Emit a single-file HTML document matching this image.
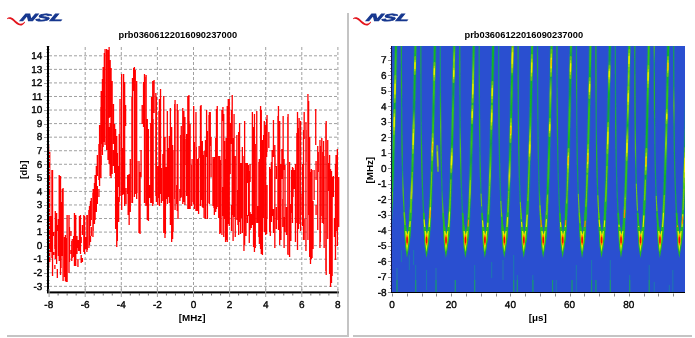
<!DOCTYPE html><html><head><meta charset="utf-8"><style>html,body{margin:0;padding:0;background:#fff;width:695px;height:338px;overflow:hidden;position:relative}</style></head><body><svg width="695" height="338" viewBox="0 0 695 338" style="position:absolute;left:0;top:0"><rect width="695" height="338" fill="#fff"/><rect x="347" y="13" width="2" height="324" fill="#c4c4c4"/><rect x="7" y="335" width="341" height="2" fill="#c4c4c4"/><rect x="353" y="335" width="339" height="2" fill="#c4c4c4"/><g transform="translate(0,0)"><path d="M7,18.6 C8.6,16.6 11.2,16.8 14,19.2 C16.6,21.6 18.6,23.6 20.8,23.8 C22.2,23.8 23.4,23 24.6,21.6 L25,22.4 C23.6,24.4 22.2,25.6 20.4,25.6 C17.6,25.4 15.4,23.2 13,20.8 C10.8,18.8 9,18.2 7.4,19.2 Z" fill="#e3141c"/><text x="0" y="0" transform="translate(19.6,20.6) skewX(-24) scale(2.07,1.0)" font-family="Liberation Sans, Arial, sans-serif" font-weight="bold" font-style="italic" font-size="10.3" fill="#16378f" stroke="#16378f" stroke-width="0.65">NSL</text></g><g transform="translate(346,0)"><path d="M7,18.6 C8.6,16.6 11.2,16.8 14,19.2 C16.6,21.6 18.6,23.6 20.8,23.8 C22.2,23.8 23.4,23 24.6,21.6 L25,22.4 C23.6,24.4 22.2,25.6 20.4,25.6 C17.6,25.4 15.4,23.2 13,20.8 C10.8,18.8 9,18.2 7.4,19.2 Z" fill="#e3141c"/><text x="0" y="0" transform="translate(19.6,20.6) skewX(-24) scale(2.07,1.0)" font-family="Liberation Sans, Arial, sans-serif" font-weight="bold" font-style="italic" font-size="10.3" fill="#16378f" stroke="#16378f" stroke-width="0.65">NSL</text></g><text x="177.8" y="38" text-anchor="middle" font-family="Liberation Sans, Arial, sans-serif" font-weight="bold" font-size="9.4" textLength="118.6" lengthAdjust="spacingAndGlyphs" fill="#000">prb03606122016090237000</text><text x="523.8" y="38" text-anchor="middle" font-family="Liberation Sans, Arial, sans-serif" font-weight="bold" font-size="9.4" textLength="118.6" lengthAdjust="spacingAndGlyphs" fill="#000">prb03606122016090237000</text><path d="M49,286.32H339M49,272.76H339M49,259.20H339M49,245.64H339M49,232.08H339M49,218.52H339M49,204.96H339M49,191.40H339M49,177.84H339M49,164.28H339M49,150.72H339M49,137.16H339M49,123.60H339M49,110.04H339M49,96.48H339M49,82.92H339M49,69.36H339M49,55.80H339" stroke="#a0a0a0" stroke-width="1" stroke-dasharray="3,2" fill="none"/><path d="M85.20,47V291M121.30,47V291M157.40,47V291M193.50,47V291M229.60,47V291M265.70,47V291M301.80,47V291M337.90,47V291" stroke="#a0a0a0" stroke-width="1" stroke-dasharray="3,2" fill="none"/><path d="M48.62,145V268M49.74,152V262M50.8,216V252M51.94,170V258M52.54,170V276M53.77,232V236M53.77,252V255M54.87,236V249M54.87,265V269M55.3,211V259M56.6,213V264M57.32,225V231M57.32,269V278M58.37,219V256M59.2,175V261M60.52,176V275M61.04,202V268M62.34,189V256M63.08,188V281M64.53,237V277M65.42,235V281M66.13,238V282M67.11,215V282M69.0,215V273M69.48,227V262M70.96,231V236M70.96,250V254M71.77,241V261M72.28,239V258M73.65,236V257M74.46,213V266M75.74,215V266M76.98,236V254M77.94,240V248M77.94,259V267M78.62,240V251M79.44,216V251M80.47,215V254M81.19,237V243M81.19,255V263M82.41,225V235M82.41,258V262M83.82,215V252M84.6,216V254M85.89,237V249M86.89,215V252M87.29,215V250M88.91,210V248M89.5,206V245M90.49,201V226M90.49,236V242M91.29,198V220M91.29,227V236M92.94,193V237M93.15,189V231M94.47,183V224M95.12,175V220M96.34,166V212M97.36,155V176M97.36,186V204M98.92,144V180M98.92,189V197M99.58,125V186M100.91,107V178M101.2,91V144M101.2,156V165M102.43,79V155M103.14,67V147M104.33,53V142M105.07,49V145M106.66,49V150M108.0,50V160M108.22,53V159M109.13,47V118M109.13,127V164M110.16,60V117M110.16,123V176M111.06,68V178M112.13,81V174M113.49,104V144M113.49,150V166M114.63,124V173M115.62,129V229M116.75,136V247M117.37,153V241M118.66,166V187M118.66,197V222M119.24,134V202M120.03,99V196M121.68,74V210M122.82,148V195M123.61,74V194M124.65,82V206M125.59,105V126M126.04,188V204M127.62,175V194M128.16,175V215M129.15,174V225M130.29,159V212M131.92,97V203M132.47,78V203M133.67,68V91M134.4,67V197M135.28,70V194M136.67,81V199M137.01,161V193M138.99,161V233M139.07,165V231M140.05,172V234M141.06,150V177M142.18,105V124M143.54,82V127M144.49,74V203M145.91,77V206M146.12,75V205M147.31,119V220M148.43,129V221M149.7,185V198M150.75,123V203M151.57,97V203M152.73,81V206M153.13,119V204M154.06,80V113M155.86,93V196M156.36,97V202M157.73,166V205M158.94,111V198M159.46,99V206M160.53,89V194M161.42,168V203M162.88,154V201M163.75,96V233M164.98,137V238M165.4,170V234M166.17,167V199M167.32,111V204M168.38,148V197M169.32,136V203M170.4,108V225M171.67,127V242M172.59,145V239M173.08,150V232M174.71,104V199M175.07,100V210M176.69,185V204M177.24,104V211M178.0,110V219M179.9,189V201M180.72,135V198M181.27,126V197M182.77,108V204M183.88,111V202M184.9,117V205M185.19,139V165M186.65,134V196M187.83,96V209M188.93,95V209M189.1,121V198M190.1,124V209M191.71,165V206M192.1,159V202M193.68,106V204M194.38,142V209M195.96,112V211M196.3,147V211M197.38,159V211M198.58,158V214M199.05,146V158M200.48,106V206M201.09,105V200M202.36,141V207M203.05,155V208M204.09,151V218M205.51,140V219M206.59,110V157M207.41,131V219M209.0,115V203M209.42,112V204M210.27,112V146M211.07,137V177M212.96,157V206M213.94,159V208M214.37,157V215M215.7,138V212M216.48,109V209M217.26,106V207M218.71,156V218M219.79,156V234M220.35,160V233M221.92,110V235M222.94,107V121M222.94,187V216M223.74,114V237M224.55,141V219M225.57,159V242M226.09,138V240M227.26,106V242M228.26,99V224M229.25,99V226M230.18,123V174M231.49,110V144M231.49,205V231M232.22,95V215M233.09,138V241M234.07,114V217M235.26,156V237M236.9,135V220M237.95,190V225M238.65,132V235M239.57,123V222M240.54,163V234M241.78,163V218M242.36,147V233M243.96,156V251M244.63,121V245M245.97,163V236M246.41,163V216M247.41,163V183M247.41,215V223M248.51,165V216M249.29,171V243M250.1,164V182M250.1,212V230M251.27,214V228M252.38,112V225M253.53,127V247M254.44,114V252M255.28,144V248M256.76,111V223M257.73,206V223M258.86,162V237M259.36,159V244M260.59,106V249M261.28,110V254M262.42,140V255M263.66,135V218M264.31,121V232M265.68,125V235M266.61,119V157M266.61,217V234M267.04,115V152M267.04,185V219M268.83,132V148M269.66,167V232M270.31,169V236M271.44,162V222M272.15,150V216M273.44,120V157M273.44,209V233M274.83,145V248M275.02,155V167M276.37,166V179M276.37,207V229M277.95,116V220M278.45,106V230M279.69,121V245M280.92,164V240M281.88,149V179M282.77,199V227M283.14,116V217M284.1,159V170M284.1,217V248M285.01,165V232M286.45,207V235M287.82,117V254M288.07,114V255M289.59,162V257M290.86,204V241M291.64,170V213M292.47,167V223M293.07,168V197M294.29,170V189M295.46,164V242M296.87,133V223M297.5,112V250M298.45,128V229M299.13,118V224M300.6,121V231M301.04,194V215M302.66,164V226M303.51,130V240M304.18,112V139M304.18,219V240M305.94,122V251M306.13,130V162M307.93,94V240M308.61,101V215M309.66,137V257M310.5,172V264M311.34,169V259M312.05,170V258M313.05,201V249M314.12,170V200M315.74,109V145M316.07,161V180M316.07,205V215M317.73,146V230M318.28,152V172M319.96,140V248M320.32,146V242M321.79,138V216M322.23,152V223M323.58,141V224M324.12,156V248M325.87,124V271M326.19,121V275M327.74,140V239M328.3,163V191M329.6,155V274M330.56,169V287M331.5,171V283M332.16,177V276M333.35,176V197M334.44,218V237M335.48,164V260M336.04,155V231M337.37,149V246M338.71,177V227" stroke="#ff0000" stroke-width="1.3" fill="none"/><rect x="47" y="46" width="2" height="247" fill="#000"/><rect x="47" y="291.4" width="292" height="2" fill="#000"/><path d="M44,286.5H47M44,273.5H47M44,259.5H47M44,246.5H47M44,232.5H47M44,219.5H47M44,205.5H47M44,191.5H47M44,178.5H47M44,164.5H47M44,151.5H47M44,137.5H47M44,124.5H47M44,110.5H47M44,96.5H47M44,83.5H47M44,69.5H47M44,56.5H47M49.10,289V297M85.20,289V297M121.30,289V297M157.40,289V297M193.50,289V297M229.60,289V297M265.70,289V297M301.80,289V297M337.90,289V297" stroke="#a0a0a0" stroke-width="1" fill="none"/><path d="M58.12,293V295.5M67.15,293V295.5M76.17,293V295.5M94.22,293V295.5M103.25,293V295.5M112.27,293V295.5M130.32,293V295.5M139.35,293V295.5M148.38,293V295.5M166.43,293V295.5M175.45,293V295.5M184.47,293V295.5M202.53,293V295.5M211.55,293V295.5M220.57,293V295.5M238.62,293V295.5M247.65,293V295.5M256.68,293V295.5M274.73,293V295.5M283.75,293V295.5M292.77,293V295.5M310.82,293V295.5M319.85,293V295.5M328.88,293V295.5" stroke="#707070" stroke-width="1" fill="none"/><path d="M46,290.5H47M49,290.5H50M46,283.5H47M49,283.5H50M46,280.5H47M49,280.5H50M46,276.5H47M49,276.5H50M46,269.5H47M49,269.5H50M46,266.5H47M49,266.5H50M46,263.5H47M49,263.5H50M46,256.5H47M49,256.5H50M46,252.5H47M49,252.5H50M46,249.5H47M49,249.5H50M46,242.5H47M49,242.5H50M46,239.5H47M49,239.5H50M46,235.5H47M49,235.5H50M46,229.5H47M49,229.5H50M46,225.5H47M49,225.5H50M46,222.5H47M49,222.5H50M46,215.5H47M49,215.5H50M46,212.5H47M49,212.5H50M46,208.5H47M49,208.5H50M46,202.5H47M49,202.5H50M46,198.5H47M49,198.5H50M46,195.5H47M49,195.5H50M46,188.5H47M49,188.5H50M46,185.5H47M49,185.5H50M46,181.5H47M49,181.5H50M46,174.5H47M49,174.5H50M46,171.5H47M49,171.5H50M46,168.5H47M49,168.5H50M46,161.5H47M49,161.5H50M46,158.5H47M49,158.5H50M46,154.5H47M49,154.5H50M46,147.5H47M49,147.5H50M46,144.5H47M49,144.5H50M46,141.5H47M49,141.5H50M46,134.5H47M49,134.5H50M46,130.5H47M49,130.5H50M46,127.5H47M49,127.5H50M46,120.5H47M49,120.5H50M46,117.5H47M49,117.5H50M46,113.5H47M49,113.5H50M46,107.5H47M49,107.5H50M46,103.5H47M49,103.5H50M46,100.5H47M49,100.5H50M46,93.5H47M49,93.5H50M46,90.5H47M49,90.5H50M46,86.5H47M49,86.5H50M46,80.5H47M49,80.5H50M46,76.5H47M49,76.5H50M46,73.5H47M49,73.5H50M46,66.5H47M49,66.5H50M46,63.5H47M49,63.5H50M46,59.5H47M49,59.5H50M46,52.5H47M49,52.5H50M46,49.5H47M49,49.5H50M46,46.5H47M49,46.5H50" stroke="#c0c0c0" stroke-width="1" fill="none"/><g font-family="Liberation Sans, Arial, sans-serif" font-size="10" text-rendering="geometricPrecision" fill="#000" stroke="#000" stroke-width="0.35"><text x="42.3" y="289.5" text-anchor="end">-3</text><text x="42.3" y="276.0" text-anchor="end">-2</text><text x="42.3" y="262.4" text-anchor="end">-1</text><text x="42.3" y="248.8" text-anchor="end">0</text><text x="42.3" y="235.3" text-anchor="end">1</text><text x="42.3" y="221.7" text-anchor="end">2</text><text x="42.3" y="208.2" text-anchor="end">3</text><text x="42.3" y="194.6" text-anchor="end">4</text><text x="42.3" y="181.0" text-anchor="end">5</text><text x="42.3" y="167.5" text-anchor="end">6</text><text x="42.3" y="153.9" text-anchor="end">7</text><text x="42.3" y="140.4" text-anchor="end">8</text><text x="42.3" y="126.8" text-anchor="end">9</text><text x="42.3" y="113.2" text-anchor="end">10</text><text x="42.3" y="99.7" text-anchor="end">11</text><text x="42.3" y="86.1" text-anchor="end">12</text><text x="42.3" y="72.6" text-anchor="end">13</text><text x="42.3" y="59.0" text-anchor="end">14</text><text x="48.8" y="308" text-anchor="middle">-8</text><text x="85.2" y="308" text-anchor="middle">-6</text><text x="121.3" y="308" text-anchor="middle">-4</text><text x="157.4" y="308" text-anchor="middle">-2</text><text x="193.5" y="308" text-anchor="middle">0</text><text x="229.6" y="308" text-anchor="middle">2</text><text x="265.7" y="308" text-anchor="middle">4</text><text x="301.8" y="308" text-anchor="middle">6</text><text x="337.9" y="308" text-anchor="middle">8</text></g><text x="192.2" y="320.6" text-anchor="middle" font-family="Liberation Sans, Arial, sans-serif" font-weight="bold" font-size="9.8">[MHz]</text><text transform="translate(26.6,169.7) rotate(-90)" text-anchor="middle" font-family="Liberation Sans, Arial, sans-serif" font-weight="bold" font-size="9.8">[db]</text><rect x="392" y="46" width="293" height="246" fill="#2a4fd0"/><defs><clipPath id="spc"><rect x="392" y="46" width="293" height="246"/></clipPath><filter id="bl" x="-20%" y="-20%" width="140%" height="140%"><feGaussianBlur stdDeviation="0.5"/></filter><linearGradient id="r1" gradientUnits="userSpaceOnUse" x1="0" y1="44" x2="0" y2="225.0"><stop offset="0.00" stop-color="#12b424"/><stop offset="0.09" stop-color="#34c414"/><stop offset="0.18" stop-color="#34c414"/><stop offset="0.27" stop-color="#12b424"/><stop offset="0.36" stop-color="#12b424"/><stop offset="0.45" stop-color="#34c414"/><stop offset="0.55" stop-color="#34c414"/><stop offset="0.64" stop-color="#12b424"/><stop offset="0.73" stop-color="#12b424"/><stop offset="0.82" stop-color="#12b424"/><stop offset="0.91" stop-color="#149c48"/><stop offset="1.00" stop-color="#12b424"/></linearGradient><linearGradient id="l1" gradientUnits="userSpaceOnUse" x1="0" y1="44" x2="0" y2="231.0"><stop offset="0.00" stop-color="#189c5c"/><stop offset="0.11" stop-color="#14907a"/><stop offset="0.22" stop-color="#22b030"/><stop offset="0.33" stop-color="#14907a"/><stop offset="0.44" stop-color="#14907a"/><stop offset="0.56" stop-color="#14907a"/><stop offset="0.67" stop-color="#50c020"/><stop offset="0.78" stop-color="#22b030"/><stop offset="0.89" stop-color="#22b030"/><stop offset="1.00" stop-color="#189c5c"/></linearGradient><linearGradient id="r2" gradientUnits="userSpaceOnUse" x1="0" y1="44" x2="0" y2="225.0"><stop offset="0.00" stop-color="#34c414"/><stop offset="0.09" stop-color="#12b424"/><stop offset="0.18" stop-color="#12b424"/><stop offset="0.27" stop-color="#12b424"/><stop offset="0.36" stop-color="#149c48"/><stop offset="0.45" stop-color="#8cd806"/><stop offset="0.55" stop-color="#12b424"/><stop offset="0.64" stop-color="#34c414"/><stop offset="0.73" stop-color="#12b424"/><stop offset="0.82" stop-color="#e0e400"/><stop offset="0.91" stop-color="#8cd806"/><stop offset="1.00" stop-color="#34c414"/></linearGradient><linearGradient id="l2" gradientUnits="userSpaceOnUse" x1="0" y1="44" x2="0" y2="231.0"><stop offset="0.00" stop-color="#22b030"/><stop offset="0.11" stop-color="#189c5c"/><stop offset="0.22" stop-color="#22b030"/><stop offset="0.33" stop-color="#14907a"/><stop offset="0.44" stop-color="#189c5c"/><stop offset="0.56" stop-color="#22b030"/><stop offset="0.67" stop-color="#14907a"/><stop offset="0.78" stop-color="#50c020"/><stop offset="0.89" stop-color="#22b030"/><stop offset="1.00" stop-color="#189c5c"/></linearGradient><linearGradient id="r3" gradientUnits="userSpaceOnUse" x1="0" y1="44" x2="0" y2="225.0"><stop offset="0.00" stop-color="#12b424"/><stop offset="0.09" stop-color="#12b424"/><stop offset="0.18" stop-color="#34c414"/><stop offset="0.27" stop-color="#34c414"/><stop offset="0.36" stop-color="#12b424"/><stop offset="0.45" stop-color="#34c414"/><stop offset="0.55" stop-color="#34c414"/><stop offset="0.64" stop-color="#34c414"/><stop offset="0.73" stop-color="#12b424"/><stop offset="0.82" stop-color="#12b424"/><stop offset="0.91" stop-color="#12b424"/><stop offset="1.00" stop-color="#8cd806"/></linearGradient><linearGradient id="l3" gradientUnits="userSpaceOnUse" x1="0" y1="44" x2="0" y2="231.0"><stop offset="0.00" stop-color="#189c5c"/><stop offset="0.11" stop-color="#189c5c"/><stop offset="0.22" stop-color="#14907a"/><stop offset="0.33" stop-color="#14907a"/><stop offset="0.44" stop-color="#14907a"/><stop offset="0.56" stop-color="#22b030"/><stop offset="0.67" stop-color="#22b030"/><stop offset="0.78" stop-color="#189c5c"/><stop offset="0.89" stop-color="#189c5c"/><stop offset="1.00" stop-color="#189c5c"/></linearGradient><linearGradient id="r4" gradientUnits="userSpaceOnUse" x1="0" y1="44" x2="0" y2="225.0"><stop offset="0.00" stop-color="#12b424"/><stop offset="0.09" stop-color="#8cd806"/><stop offset="0.18" stop-color="#12b424"/><stop offset="0.27" stop-color="#149c48"/><stop offset="0.36" stop-color="#34c414"/><stop offset="0.45" stop-color="#34c414"/><stop offset="0.55" stop-color="#12b424"/><stop offset="0.64" stop-color="#8cd806"/><stop offset="0.73" stop-color="#149c48"/><stop offset="0.82" stop-color="#12b424"/><stop offset="0.91" stop-color="#12b424"/><stop offset="1.00" stop-color="#12b424"/></linearGradient><linearGradient id="l4" gradientUnits="userSpaceOnUse" x1="0" y1="44" x2="0" y2="231.0"><stop offset="0.00" stop-color="#14907a"/><stop offset="0.11" stop-color="#14907a"/><stop offset="0.22" stop-color="#14907a"/><stop offset="0.33" stop-color="#22b030"/><stop offset="0.44" stop-color="#50c020"/><stop offset="0.56" stop-color="#22b030"/><stop offset="0.67" stop-color="#189c5c"/><stop offset="0.78" stop-color="#14907a"/><stop offset="0.89" stop-color="#50c020"/><stop offset="1.00" stop-color="#189c5c"/></linearGradient><linearGradient id="r5" gradientUnits="userSpaceOnUse" x1="0" y1="44" x2="0" y2="225.0"><stop offset="0.00" stop-color="#12b424"/><stop offset="0.09" stop-color="#34c414"/><stop offset="0.18" stop-color="#8cd806"/><stop offset="0.27" stop-color="#12b424"/><stop offset="0.36" stop-color="#34c414"/><stop offset="0.45" stop-color="#12b424"/><stop offset="0.55" stop-color="#34c414"/><stop offset="0.64" stop-color="#149c48"/><stop offset="0.73" stop-color="#34c414"/><stop offset="0.82" stop-color="#8cd806"/><stop offset="0.91" stop-color="#149c48"/><stop offset="1.00" stop-color="#34c414"/></linearGradient><linearGradient id="l5" gradientUnits="userSpaceOnUse" x1="0" y1="44" x2="0" y2="231.0"><stop offset="0.00" stop-color="#189c5c"/><stop offset="0.11" stop-color="#22b030"/><stop offset="0.22" stop-color="#189c5c"/><stop offset="0.33" stop-color="#14907a"/><stop offset="0.44" stop-color="#189c5c"/><stop offset="0.56" stop-color="#50c020"/><stop offset="0.67" stop-color="#22b030"/><stop offset="0.78" stop-color="#14907a"/><stop offset="0.89" stop-color="#14907a"/><stop offset="1.00" stop-color="#14907a"/></linearGradient><linearGradient id="r6" gradientUnits="userSpaceOnUse" x1="0" y1="44" x2="0" y2="225.0"><stop offset="0.00" stop-color="#12b424"/><stop offset="0.09" stop-color="#12b424"/><stop offset="0.18" stop-color="#12b424"/><stop offset="0.27" stop-color="#12b424"/><stop offset="0.36" stop-color="#34c414"/><stop offset="0.45" stop-color="#34c414"/><stop offset="0.55" stop-color="#149c48"/><stop offset="0.64" stop-color="#34c414"/><stop offset="0.73" stop-color="#8cd806"/><stop offset="0.82" stop-color="#34c414"/><stop offset="0.91" stop-color="#34c414"/><stop offset="1.00" stop-color="#149c48"/></linearGradient><linearGradient id="l6" gradientUnits="userSpaceOnUse" x1="0" y1="44" x2="0" y2="231.0"><stop offset="0.00" stop-color="#189c5c"/><stop offset="0.11" stop-color="#14907a"/><stop offset="0.22" stop-color="#22b030"/><stop offset="0.33" stop-color="#14907a"/><stop offset="0.44" stop-color="#22b030"/><stop offset="0.56" stop-color="#14907a"/><stop offset="0.67" stop-color="#22b030"/><stop offset="0.78" stop-color="#14907a"/><stop offset="0.89" stop-color="#14907a"/><stop offset="1.00" stop-color="#189c5c"/></linearGradient><linearGradient id="r7" gradientUnits="userSpaceOnUse" x1="0" y1="44" x2="0" y2="225.0"><stop offset="0.00" stop-color="#34c414"/><stop offset="0.09" stop-color="#e0e400"/><stop offset="0.18" stop-color="#12b424"/><stop offset="0.27" stop-color="#34c414"/><stop offset="0.36" stop-color="#12b424"/><stop offset="0.45" stop-color="#34c414"/><stop offset="0.55" stop-color="#149c48"/><stop offset="0.64" stop-color="#34c414"/><stop offset="0.73" stop-color="#e0e400"/><stop offset="0.82" stop-color="#12b424"/><stop offset="0.91" stop-color="#12b424"/><stop offset="1.00" stop-color="#e0e400"/></linearGradient><linearGradient id="l7" gradientUnits="userSpaceOnUse" x1="0" y1="44" x2="0" y2="231.0"><stop offset="0.00" stop-color="#14907a"/><stop offset="0.11" stop-color="#14907a"/><stop offset="0.22" stop-color="#14907a"/><stop offset="0.33" stop-color="#22b030"/><stop offset="0.44" stop-color="#22b030"/><stop offset="0.56" stop-color="#189c5c"/><stop offset="0.67" stop-color="#189c5c"/><stop offset="0.78" stop-color="#14907a"/><stop offset="0.89" stop-color="#189c5c"/><stop offset="1.00" stop-color="#189c5c"/></linearGradient><linearGradient id="r8" gradientUnits="userSpaceOnUse" x1="0" y1="44" x2="0" y2="225.0"><stop offset="0.00" stop-color="#34c414"/><stop offset="0.09" stop-color="#12b424"/><stop offset="0.18" stop-color="#12b424"/><stop offset="0.27" stop-color="#12b424"/><stop offset="0.36" stop-color="#12b424"/><stop offset="0.45" stop-color="#34c414"/><stop offset="0.55" stop-color="#e0e400"/><stop offset="0.64" stop-color="#149c48"/><stop offset="0.73" stop-color="#12b424"/><stop offset="0.82" stop-color="#12b424"/><stop offset="0.91" stop-color="#34c414"/><stop offset="1.00" stop-color="#8cd806"/></linearGradient><linearGradient id="l8" gradientUnits="userSpaceOnUse" x1="0" y1="44" x2="0" y2="231.0"><stop offset="0.00" stop-color="#22b030"/><stop offset="0.11" stop-color="#189c5c"/><stop offset="0.22" stop-color="#22b030"/><stop offset="0.33" stop-color="#189c5c"/><stop offset="0.44" stop-color="#22b030"/><stop offset="0.56" stop-color="#22b030"/><stop offset="0.67" stop-color="#189c5c"/><stop offset="0.78" stop-color="#14907a"/><stop offset="0.89" stop-color="#22b030"/><stop offset="1.00" stop-color="#189c5c"/></linearGradient><linearGradient id="r9" gradientUnits="userSpaceOnUse" x1="0" y1="44" x2="0" y2="225.0"><stop offset="0.00" stop-color="#34c414"/><stop offset="0.09" stop-color="#12b424"/><stop offset="0.18" stop-color="#149c48"/><stop offset="0.27" stop-color="#8cd806"/><stop offset="0.36" stop-color="#34c414"/><stop offset="0.45" stop-color="#12b424"/><stop offset="0.55" stop-color="#12b424"/><stop offset="0.64" stop-color="#34c414"/><stop offset="0.73" stop-color="#34c414"/><stop offset="0.82" stop-color="#12b424"/><stop offset="0.91" stop-color="#8cd806"/><stop offset="1.00" stop-color="#12b424"/></linearGradient><linearGradient id="l9" gradientUnits="userSpaceOnUse" x1="0" y1="44" x2="0" y2="231.0"><stop offset="0.00" stop-color="#14907a"/><stop offset="0.11" stop-color="#22b030"/><stop offset="0.22" stop-color="#14907a"/><stop offset="0.33" stop-color="#189c5c"/><stop offset="0.44" stop-color="#14907a"/><stop offset="0.56" stop-color="#189c5c"/><stop offset="0.67" stop-color="#14907a"/><stop offset="0.78" stop-color="#189c5c"/><stop offset="0.89" stop-color="#50c020"/><stop offset="1.00" stop-color="#189c5c"/></linearGradient><linearGradient id="r10" gradientUnits="userSpaceOnUse" x1="0" y1="44" x2="0" y2="225.0"><stop offset="0.00" stop-color="#34c414"/><stop offset="0.09" stop-color="#149c48"/><stop offset="0.18" stop-color="#12b424"/><stop offset="0.27" stop-color="#149c48"/><stop offset="0.36" stop-color="#34c414"/><stop offset="0.45" stop-color="#34c414"/><stop offset="0.55" stop-color="#12b424"/><stop offset="0.64" stop-color="#149c48"/><stop offset="0.73" stop-color="#34c414"/><stop offset="0.82" stop-color="#149c48"/><stop offset="0.91" stop-color="#12b424"/><stop offset="1.00" stop-color="#12b424"/></linearGradient><linearGradient id="l10" gradientUnits="userSpaceOnUse" x1="0" y1="44" x2="0" y2="231.0"><stop offset="0.00" stop-color="#22b030"/><stop offset="0.11" stop-color="#189c5c"/><stop offset="0.22" stop-color="#14907a"/><stop offset="0.33" stop-color="#22b030"/><stop offset="0.44" stop-color="#22b030"/><stop offset="0.56" stop-color="#189c5c"/><stop offset="0.67" stop-color="#14907a"/><stop offset="0.78" stop-color="#14907a"/><stop offset="0.89" stop-color="#189c5c"/><stop offset="1.00" stop-color="#189c5c"/></linearGradient><linearGradient id="r11" gradientUnits="userSpaceOnUse" x1="0" y1="44" x2="0" y2="225.0"><stop offset="0.00" stop-color="#34c414"/><stop offset="0.09" stop-color="#34c414"/><stop offset="0.18" stop-color="#12b424"/><stop offset="0.27" stop-color="#149c48"/><stop offset="0.36" stop-color="#34c414"/><stop offset="0.45" stop-color="#34c414"/><stop offset="0.55" stop-color="#34c414"/><stop offset="0.64" stop-color="#12b424"/><stop offset="0.73" stop-color="#34c414"/><stop offset="0.82" stop-color="#12b424"/><stop offset="0.91" stop-color="#12b424"/><stop offset="1.00" stop-color="#12b424"/></linearGradient><linearGradient id="l11" gradientUnits="userSpaceOnUse" x1="0" y1="44" x2="0" y2="231.0"><stop offset="0.00" stop-color="#14907a"/><stop offset="0.11" stop-color="#189c5c"/><stop offset="0.22" stop-color="#22b030"/><stop offset="0.33" stop-color="#14907a"/><stop offset="0.44" stop-color="#14907a"/><stop offset="0.56" stop-color="#189c5c"/><stop offset="0.67" stop-color="#189c5c"/><stop offset="0.78" stop-color="#14907a"/><stop offset="0.89" stop-color="#14907a"/><stop offset="1.00" stop-color="#14907a"/></linearGradient><linearGradient id="r12" gradientUnits="userSpaceOnUse" x1="0" y1="44" x2="0" y2="225.0"><stop offset="0.00" stop-color="#12b424"/><stop offset="0.09" stop-color="#149c48"/><stop offset="0.18" stop-color="#8cd806"/><stop offset="0.27" stop-color="#12b424"/><stop offset="0.36" stop-color="#149c48"/><stop offset="0.45" stop-color="#12b424"/><stop offset="0.55" stop-color="#34c414"/><stop offset="0.64" stop-color="#34c414"/><stop offset="0.73" stop-color="#12b424"/><stop offset="0.82" stop-color="#34c414"/><stop offset="0.91" stop-color="#12b424"/><stop offset="1.00" stop-color="#12b424"/></linearGradient><linearGradient id="l12" gradientUnits="userSpaceOnUse" x1="0" y1="44" x2="0" y2="231.0"><stop offset="0.00" stop-color="#22b030"/><stop offset="0.11" stop-color="#22b030"/><stop offset="0.22" stop-color="#22b030"/><stop offset="0.33" stop-color="#189c5c"/><stop offset="0.44" stop-color="#14907a"/><stop offset="0.56" stop-color="#22b030"/><stop offset="0.67" stop-color="#22b030"/><stop offset="0.78" stop-color="#189c5c"/><stop offset="0.89" stop-color="#22b030"/><stop offset="1.00" stop-color="#50c020"/></linearGradient><linearGradient id="r13" gradientUnits="userSpaceOnUse" x1="0" y1="44" x2="0" y2="225.0"><stop offset="0.00" stop-color="#34c414"/><stop offset="0.09" stop-color="#12b424"/><stop offset="0.18" stop-color="#8cd806"/><stop offset="0.27" stop-color="#34c414"/><stop offset="0.36" stop-color="#8cd806"/><stop offset="0.45" stop-color="#12b424"/><stop offset="0.55" stop-color="#e0e400"/><stop offset="0.64" stop-color="#34c414"/><stop offset="0.73" stop-color="#34c414"/><stop offset="0.82" stop-color="#34c414"/><stop offset="0.91" stop-color="#8cd806"/><stop offset="1.00" stop-color="#12b424"/></linearGradient><linearGradient id="l13" gradientUnits="userSpaceOnUse" x1="0" y1="44" x2="0" y2="231.0"><stop offset="0.00" stop-color="#14907a"/><stop offset="0.11" stop-color="#189c5c"/><stop offset="0.22" stop-color="#14907a"/><stop offset="0.33" stop-color="#189c5c"/><stop offset="0.44" stop-color="#22b030"/><stop offset="0.56" stop-color="#189c5c"/><stop offset="0.67" stop-color="#14907a"/><stop offset="0.78" stop-color="#14907a"/><stop offset="0.89" stop-color="#189c5c"/><stop offset="1.00" stop-color="#189c5c"/></linearGradient><linearGradient id="r14" gradientUnits="userSpaceOnUse" x1="0" y1="44" x2="0" y2="225.0"><stop offset="0.00" stop-color="#34c414"/><stop offset="0.09" stop-color="#34c414"/><stop offset="0.18" stop-color="#34c414"/><stop offset="0.27" stop-color="#34c414"/><stop offset="0.36" stop-color="#12b424"/><stop offset="0.45" stop-color="#12b424"/><stop offset="0.55" stop-color="#12b424"/><stop offset="0.64" stop-color="#12b424"/><stop offset="0.73" stop-color="#12b424"/><stop offset="0.82" stop-color="#34c414"/><stop offset="0.91" stop-color="#12b424"/><stop offset="1.00" stop-color="#149c48"/></linearGradient><linearGradient id="l14" gradientUnits="userSpaceOnUse" x1="0" y1="44" x2="0" y2="231.0"><stop offset="0.00" stop-color="#22b030"/><stop offset="0.11" stop-color="#189c5c"/><stop offset="0.22" stop-color="#22b030"/><stop offset="0.33" stop-color="#22b030"/><stop offset="0.44" stop-color="#22b030"/><stop offset="0.56" stop-color="#50c020"/><stop offset="0.67" stop-color="#189c5c"/><stop offset="0.78" stop-color="#189c5c"/><stop offset="0.89" stop-color="#14907a"/><stop offset="1.00" stop-color="#189c5c"/></linearGradient><linearGradient id="r15" gradientUnits="userSpaceOnUse" x1="0" y1="44" x2="0" y2="225.0"><stop offset="0.00" stop-color="#12b424"/><stop offset="0.09" stop-color="#12b424"/><stop offset="0.18" stop-color="#12b424"/><stop offset="0.27" stop-color="#34c414"/><stop offset="0.36" stop-color="#34c414"/><stop offset="0.45" stop-color="#34c414"/><stop offset="0.55" stop-color="#8cd806"/><stop offset="0.64" stop-color="#34c414"/><stop offset="0.73" stop-color="#12b424"/><stop offset="0.82" stop-color="#12b424"/><stop offset="0.91" stop-color="#34c414"/><stop offset="1.00" stop-color="#34c414"/></linearGradient><linearGradient id="l15" gradientUnits="userSpaceOnUse" x1="0" y1="44" x2="0" y2="231.0"><stop offset="0.00" stop-color="#50c020"/><stop offset="0.11" stop-color="#14907a"/><stop offset="0.22" stop-color="#22b030"/><stop offset="0.33" stop-color="#22b030"/><stop offset="0.44" stop-color="#14907a"/><stop offset="0.56" stop-color="#14907a"/><stop offset="0.67" stop-color="#189c5c"/><stop offset="0.78" stop-color="#14907a"/><stop offset="0.89" stop-color="#22b030"/><stop offset="1.00" stop-color="#14907a"/></linearGradient><linearGradient id="r16" gradientUnits="userSpaceOnUse" x1="0" y1="44" x2="0" y2="225.0"><stop offset="0.00" stop-color="#34c414"/><stop offset="0.09" stop-color="#12b424"/><stop offset="0.18" stop-color="#12b424"/><stop offset="0.27" stop-color="#149c48"/><stop offset="0.36" stop-color="#149c48"/><stop offset="0.45" stop-color="#34c414"/><stop offset="0.55" stop-color="#12b424"/><stop offset="0.64" stop-color="#149c48"/><stop offset="0.73" stop-color="#8cd806"/><stop offset="0.82" stop-color="#34c414"/><stop offset="0.91" stop-color="#149c48"/><stop offset="1.00" stop-color="#34c414"/></linearGradient><linearGradient id="l16" gradientUnits="userSpaceOnUse" x1="0" y1="44" x2="0" y2="231.0"><stop offset="0.00" stop-color="#189c5c"/><stop offset="0.11" stop-color="#189c5c"/><stop offset="0.22" stop-color="#189c5c"/><stop offset="0.33" stop-color="#50c020"/><stop offset="0.44" stop-color="#189c5c"/><stop offset="0.56" stop-color="#189c5c"/><stop offset="0.67" stop-color="#189c5c"/><stop offset="0.78" stop-color="#189c5c"/><stop offset="0.89" stop-color="#189c5c"/><stop offset="1.00" stop-color="#22b030"/></linearGradient><linearGradient id="r17" gradientUnits="userSpaceOnUse" x1="0" y1="44" x2="0" y2="225.0"><stop offset="0.00" stop-color="#149c48"/><stop offset="0.09" stop-color="#12b424"/><stop offset="0.18" stop-color="#12b424"/><stop offset="0.27" stop-color="#34c414"/><stop offset="0.36" stop-color="#12b424"/><stop offset="0.45" stop-color="#12b424"/><stop offset="0.55" stop-color="#12b424"/><stop offset="0.64" stop-color="#149c48"/><stop offset="0.73" stop-color="#12b424"/><stop offset="0.82" stop-color="#12b424"/><stop offset="0.91" stop-color="#34c414"/><stop offset="1.00" stop-color="#8cd806"/></linearGradient><linearGradient id="l17" gradientUnits="userSpaceOnUse" x1="0" y1="44" x2="0" y2="231.0"><stop offset="0.00" stop-color="#14907a"/><stop offset="0.11" stop-color="#14907a"/><stop offset="0.22" stop-color="#189c5c"/><stop offset="0.33" stop-color="#14907a"/><stop offset="0.44" stop-color="#189c5c"/><stop offset="0.56" stop-color="#22b030"/><stop offset="0.67" stop-color="#14907a"/><stop offset="0.78" stop-color="#22b030"/><stop offset="0.89" stop-color="#189c5c"/><stop offset="1.00" stop-color="#14907a"/></linearGradient></defs><g clip-path="url(#spc)"><g filter="url(#bl)" fill="none" stroke-linecap="butt"><path d="M388.55,243.0L389.34,237.9L389.85,232.8L390.25,227.8L390.60,222.7L390.90,217.6L391.17,212.6L391.43,207.5L391.66,202.4L391.88,197.3L392.09,192.2L392.28,187.2L392.47,182.1L392.65,177.0L392.83,171.9L392.99,166.9L393.15,161.8L393.31,156.7L393.46,151.7L393.61,146.6L393.75,141.5L393.89,136.4L394.02,131.3L394.15,126.3L394.28,121.2L394.41,116.1L394.53,111.1L394.65,106.0L394.77,100.9L394.89,95.8L395.00,90.8L395.12,85.7L395.23,80.6L395.34,75.5L395.44,70.4L395.55,65.4L395.65,60.3L395.75,55.2L395.85,50.2L395.95,45.1L396.05,40.0M408.00,243.0L408.79,237.9L409.30,232.8L409.70,227.8L410.05,222.7L410.35,217.6L410.62,212.6L410.88,207.5L411.11,202.4L411.33,197.3L411.54,192.2L411.73,187.2L411.92,182.1L412.10,177.0L412.28,171.9L412.44,166.9L412.60,161.8L412.76,156.7L412.91,151.7L413.06,146.6L413.20,141.5L413.34,136.4L413.47,131.3L413.60,126.3L413.73,121.2L413.86,116.1L413.98,111.1L414.10,106.0L414.22,100.9L414.34,95.8L414.45,90.8L414.57,85.7L414.68,80.6L414.79,75.5L414.89,70.4L415.00,65.4L415.10,60.3L415.20,55.2L415.30,50.2L415.40,45.1L415.50,40.0M427.45,243.0L428.24,237.9L428.75,232.8L429.15,227.8L429.50,222.7L429.80,217.6L430.07,212.6L430.33,207.5L430.56,202.4L430.78,197.3L430.99,192.2L431.18,187.2L431.37,182.1L431.55,177.0L431.73,171.9L431.89,166.9L432.05,161.8L432.21,156.7L432.36,151.7L432.51,146.6L432.65,141.5L432.79,136.4L432.92,131.3L433.05,126.3L433.18,121.2L433.31,116.1L433.43,111.1L433.55,106.0L433.67,100.9L433.79,95.8L433.90,90.8L434.02,85.7L434.13,80.6L434.24,75.5L434.34,70.4L434.45,65.4L434.55,60.3L434.65,55.2L434.75,50.2L434.85,45.1L434.95,40.0M446.90,243.0L447.69,237.9L448.20,232.8L448.60,227.8L448.95,222.7L449.25,217.6L449.52,212.6L449.78,207.5L450.01,202.4L450.23,197.3L450.44,192.2L450.63,187.2L450.82,182.1L451.00,177.0L451.18,171.9L451.34,166.9L451.50,161.8L451.66,156.7L451.81,151.7L451.96,146.6L452.10,141.5L452.24,136.4L452.37,131.3L452.50,126.3L452.63,121.2L452.76,116.1L452.88,111.1L453.00,106.0L453.12,100.9L453.24,95.8L453.35,90.8L453.47,85.7L453.58,80.6L453.69,75.5L453.79,70.4L453.90,65.4L454.00,60.3L454.10,55.2L454.20,50.2L454.30,45.1L454.40,40.0M466.35,243.0L467.14,237.9L467.65,232.8L468.05,227.8L468.40,222.7L468.70,217.6L468.97,212.6L469.23,207.5L469.46,202.4L469.68,197.3L469.89,192.2L470.08,187.2L470.27,182.1L470.45,177.0L470.63,171.9L470.79,166.9L470.95,161.8L471.11,156.7L471.26,151.7L471.41,146.6L471.55,141.5L471.69,136.4L471.82,131.3L471.95,126.3L472.08,121.2L472.21,116.1L472.33,111.1L472.45,106.0L472.57,100.9L472.69,95.8L472.80,90.8L472.92,85.7L473.03,80.6L473.14,75.5L473.24,70.4L473.35,65.4L473.45,60.3L473.55,55.2L473.65,50.2L473.75,45.1L473.85,40.0M485.80,243.0L486.59,237.9L487.10,232.8L487.50,227.8L487.85,222.7L488.15,217.6L488.42,212.6L488.68,207.5L488.91,202.4L489.13,197.3L489.34,192.2L489.53,187.2L489.72,182.1L489.90,177.0L490.08,171.9L490.24,166.9L490.40,161.8L490.56,156.7L490.71,151.7L490.86,146.6L491.00,141.5L491.14,136.4L491.27,131.3L491.40,126.3L491.53,121.2L491.66,116.1L491.78,111.1L491.90,106.0L492.02,100.9L492.14,95.8L492.25,90.8L492.37,85.7L492.48,80.6L492.59,75.5L492.69,70.4L492.80,65.4L492.90,60.3L493.00,55.2L493.10,50.2L493.20,45.1L493.30,40.0M505.25,243.0L506.04,237.9L506.55,232.8L506.95,227.8L507.30,222.7L507.60,217.6L507.87,212.6L508.13,207.5L508.36,202.4L508.58,197.3L508.79,192.2L508.98,187.2L509.17,182.1L509.35,177.0L509.53,171.9L509.69,166.9L509.85,161.8L510.01,156.7L510.16,151.7L510.31,146.6L510.45,141.5L510.59,136.4L510.72,131.3L510.85,126.3L510.98,121.2L511.11,116.1L511.23,111.1L511.35,106.0L511.47,100.9L511.59,95.8L511.70,90.8L511.82,85.7L511.93,80.6L512.04,75.5L512.14,70.4L512.25,65.4L512.35,60.3L512.45,55.2L512.55,50.2L512.65,45.1L512.75,40.0M524.70,243.0L525.49,237.9L526.00,232.8L526.40,227.8L526.75,222.7L527.05,217.6L527.32,212.6L527.58,207.5L527.81,202.4L528.03,197.3L528.24,192.2L528.43,187.2L528.62,182.1L528.80,177.0L528.98,171.9L529.14,166.9L529.30,161.8L529.46,156.7L529.61,151.7L529.76,146.6L529.90,141.5L530.04,136.4L530.17,131.3L530.30,126.3L530.43,121.2L530.56,116.1L530.68,111.1L530.80,106.0L530.92,100.9L531.04,95.8L531.15,90.8L531.27,85.7L531.38,80.6L531.49,75.5L531.59,70.4L531.70,65.4L531.80,60.3L531.90,55.2L532.00,50.2L532.10,45.1L532.20,40.0M544.15,243.0L544.94,237.9L545.45,232.8L545.85,227.8L546.20,222.7L546.50,217.6L546.77,212.6L547.03,207.5L547.26,202.4L547.48,197.3L547.69,192.2L547.88,187.2L548.07,182.1L548.25,177.0L548.43,171.9L548.59,166.9L548.75,161.8L548.91,156.7L549.06,151.7L549.21,146.6L549.35,141.5L549.49,136.4L549.62,131.3L549.75,126.3L549.88,121.2L550.01,116.1L550.13,111.1L550.25,106.0L550.37,100.9L550.49,95.8L550.60,90.8L550.72,85.7L550.83,80.6L550.94,75.5L551.04,70.4L551.15,65.4L551.25,60.3L551.35,55.2L551.45,50.2L551.55,45.1L551.65,40.0M563.60,243.0L564.39,237.9L564.90,232.8L565.30,227.8L565.65,222.7L565.95,217.6L566.22,212.6L566.48,207.5L566.71,202.4L566.93,197.3L567.14,192.2L567.33,187.2L567.52,182.1L567.70,177.0L567.88,171.9L568.04,166.9L568.20,161.8L568.36,156.7L568.51,151.7L568.66,146.6L568.80,141.5L568.94,136.4L569.07,131.3L569.20,126.3L569.33,121.2L569.46,116.1L569.58,111.1L569.70,106.0L569.82,100.9L569.94,95.8L570.05,90.8L570.17,85.7L570.28,80.6L570.39,75.5L570.49,70.4L570.60,65.4L570.70,60.3L570.80,55.2L570.90,50.2L571.00,45.1L571.10,40.0M583.05,243.0L583.84,237.9L584.35,232.8L584.75,227.8L585.10,222.7L585.40,217.6L585.67,212.6L585.93,207.5L586.16,202.4L586.38,197.3L586.59,192.2L586.78,187.2L586.97,182.1L587.15,177.0L587.33,171.9L587.49,166.9L587.65,161.8L587.81,156.7L587.96,151.7L588.11,146.6L588.25,141.5L588.39,136.4L588.52,131.3L588.65,126.3L588.78,121.2L588.91,116.1L589.03,111.1L589.15,106.0L589.27,100.9L589.39,95.8L589.50,90.8L589.62,85.7L589.73,80.6L589.84,75.5L589.94,70.4L590.05,65.4L590.15,60.3L590.25,55.2L590.35,50.2L590.45,45.1L590.55,40.0M602.50,243.0L603.29,237.9L603.80,232.8L604.20,227.8L604.55,222.7L604.85,217.6L605.12,212.6L605.38,207.5L605.61,202.4L605.83,197.3L606.04,192.2L606.23,187.2L606.42,182.1L606.60,177.0L606.78,171.9L606.94,166.9L607.10,161.8L607.26,156.7L607.41,151.7L607.56,146.6L607.70,141.5L607.84,136.4L607.97,131.3L608.10,126.3L608.23,121.2L608.36,116.1L608.48,111.1L608.60,106.0L608.72,100.9L608.84,95.8L608.95,90.8L609.07,85.7L609.18,80.6L609.29,75.5L609.39,70.4L609.50,65.4L609.60,60.3L609.70,55.2L609.80,50.2L609.90,45.1L610.00,40.0M621.95,243.0L622.74,237.9L623.25,232.8L623.65,227.8L624.00,222.7L624.30,217.6L624.57,212.6L624.83,207.5L625.06,202.4L625.28,197.3L625.49,192.2L625.68,187.2L625.87,182.1L626.05,177.0L626.23,171.9L626.39,166.9L626.55,161.8L626.71,156.7L626.86,151.7L627.01,146.6L627.15,141.5L627.29,136.4L627.42,131.3L627.55,126.3L627.68,121.2L627.81,116.1L627.93,111.1L628.05,106.0L628.17,100.9L628.29,95.8L628.40,90.8L628.52,85.7L628.63,80.6L628.74,75.5L628.84,70.4L628.95,65.4L629.05,60.3L629.15,55.2L629.25,50.2L629.35,45.1L629.45,40.0M641.40,243.0L642.19,237.9L642.70,232.8L643.10,227.8L643.45,222.7L643.75,217.6L644.02,212.6L644.28,207.5L644.51,202.4L644.73,197.3L644.94,192.2L645.13,187.2L645.32,182.1L645.50,177.0L645.68,171.9L645.84,166.9L646.00,161.8L646.16,156.7L646.31,151.7L646.46,146.6L646.60,141.5L646.74,136.4L646.87,131.3L647.00,126.3L647.13,121.2L647.26,116.1L647.38,111.1L647.50,106.0L647.62,100.9L647.74,95.8L647.85,90.8L647.97,85.7L648.08,80.6L648.19,75.5L648.29,70.4L648.40,65.4L648.50,60.3L648.60,55.2L648.70,50.2L648.80,45.1L648.90,40.0M660.85,243.0L661.64,237.9L662.15,232.8L662.55,227.8L662.90,222.7L663.20,217.6L663.47,212.6L663.73,207.5L663.96,202.4L664.18,197.3L664.39,192.2L664.58,187.2L664.77,182.1L664.95,177.0L665.13,171.9L665.29,166.9L665.45,161.8L665.61,156.7L665.76,151.7L665.91,146.6L666.05,141.5L666.19,136.4L666.32,131.3L666.45,126.3L666.58,121.2L666.71,116.1L666.83,111.1L666.95,106.0L667.07,100.9L667.19,95.8L667.30,90.8L667.42,85.7L667.53,80.6L667.64,75.5L667.74,70.4L667.85,65.4L667.95,60.3L668.05,55.2L668.15,50.2L668.25,45.1L668.35,40.0M680.30,243.0L681.09,237.9L681.60,232.8L682.00,227.8L682.35,222.7L682.65,217.6L682.92,212.6L683.18,207.5L683.41,202.4L683.63,197.3L683.84,192.2L684.03,187.2L684.22,182.1L684.40,177.0L684.58,171.9L684.74,166.9L684.90,161.8L685.06,156.7L685.21,151.7L685.36,146.6L685.50,141.5L685.64,136.4L685.77,131.3L685.90,126.3L686.03,121.2L686.16,116.1L686.28,111.1L686.40,106.0L686.52,100.9L686.64,95.8L686.75,90.8L686.87,85.7L686.98,80.6L687.09,75.5L687.19,70.4L687.30,65.4L687.40,60.3L687.50,55.2L687.60,50.2L687.70,45.1L687.80,40.0M699.75,243.0L700.54,237.9L701.05,232.8L701.45,227.8L701.80,222.7L702.10,217.6L702.37,212.6L702.63,207.5L702.86,202.4L703.08,197.3L703.29,192.2L703.48,187.2L703.67,182.1L703.85,177.0L704.03,171.9L704.19,166.9L704.35,161.8L704.51,156.7L704.66,151.7L704.81,146.6L704.95,141.5L705.09,136.4L705.22,131.3L705.35,126.3L705.48,121.2L705.61,116.1L705.73,111.1L705.85,106.0L705.97,100.9L706.09,95.8L706.20,90.8L706.32,85.7L706.43,80.6L706.54,75.5L706.64,70.4L706.75,65.4L706.85,60.3L706.95,55.2L707.05,50.2L707.15,45.1L707.25,40.0" stroke="#0ca070" stroke-opacity="0.4" stroke-width="3.6"/><path d="M390.31,227.0L390.62,222.3L390.90,217.7L391.15,213.0L391.39,208.3L391.61,203.6L391.81,198.9L392.01,194.3L392.19,189.6L392.37,184.9L392.54,180.2L392.70,175.6L392.86,170.9L393.01,166.2L393.16,161.6L393.30,156.9L393.44,152.2L393.58,147.5L393.71,142.8L393.84,138.2L393.97,133.5L394.09,128.8L394.21,124.2L394.33,119.5L394.44,114.8L394.56,110.1L394.67,105.4L394.78,100.8L394.88,96.1L394.99,91.4L395.09,86.8L395.20,82.1L395.30,77.4L395.39,72.7L395.49,68.1L395.59,63.4L395.68,58.7L395.78,54.0L395.87,49.3L395.96,44.7L396.05,40.0" stroke="url(#r1)" stroke-width="1.8"/><path d="M386.29,233.0L385.86,228.2L385.48,223.3L385.13,218.5L384.82,213.7L384.54,208.9L384.28,204.1L384.05,199.2L383.84,194.4L383.65,189.6L383.47,184.8L383.32,179.9L383.18,175.1L383.05,170.3L382.94,165.4L382.83,160.6L382.74,155.8L382.65,151.0L382.58,146.2L382.51,141.3L382.44,136.5L382.39,131.7L382.34,126.8L382.29,122.0L382.25,117.2L382.21,112.4L382.18,107.6L382.14,102.7L382.12,97.9L382.09,93.1L382.07,88.2L382.05,83.4L382.03,78.6L382.01,73.8L382.00,68.9L381.98,64.1L381.97,59.3L381.96,54.5L381.95,49.7L381.94,44.8L381.93,40.0" stroke="url(#l1)" stroke-width="1.3"/><path d="M409.76,227.0L410.07,222.3L410.35,217.7L410.60,213.0L410.84,208.3L411.06,203.6L411.26,198.9L411.46,194.3L411.64,189.6L411.82,184.9L411.99,180.2L412.15,175.6L412.31,170.9L412.46,166.2L412.61,161.6L412.75,156.9L412.89,152.2L413.03,147.5L413.16,142.8L413.29,138.2L413.42,133.5L413.54,128.8L413.66,124.2L413.78,119.5L413.89,114.8L414.01,110.1L414.12,105.4L414.23,100.8L414.33,96.1L414.44,91.4L414.54,86.8L414.65,82.1L414.75,77.4L414.84,72.7L414.94,68.1L415.04,63.4L415.13,58.7L415.23,54.0L415.32,49.3L415.41,44.7L415.50,40.0" stroke="url(#r2)" stroke-width="1.8"/><path d="M405.74,233.0L405.31,228.2L404.93,223.3L404.58,218.5L404.27,213.7L403.99,208.9L403.73,204.1L403.50,199.2L403.29,194.4L403.10,189.6L402.92,184.8L402.77,179.9L402.63,175.1L402.50,170.3L402.39,165.4L402.28,160.6L402.19,155.8L402.10,151.0L402.03,146.2L401.96,141.3L401.89,136.5L401.84,131.7L401.79,126.8L401.74,122.0L401.70,117.2L401.66,112.4L401.63,107.6L401.59,102.7L401.57,97.9L401.54,93.1L401.52,88.2L401.50,83.4L401.48,78.6L401.46,73.8L401.45,68.9L401.43,64.1L401.42,59.3L401.41,54.5L401.40,49.7L401.39,44.8L401.38,40.0" stroke="url(#l2)" stroke-width="1.3"/><path d="M429.21,227.0L429.52,222.3L429.80,217.7L430.05,213.0L430.29,208.3L430.51,203.6L430.71,198.9L430.91,194.3L431.09,189.6L431.27,184.9L431.44,180.2L431.60,175.6L431.76,170.9L431.91,166.2L432.06,161.6L432.20,156.9L432.34,152.2L432.48,147.5L432.61,142.8L432.74,138.2L432.87,133.5L432.99,128.8L433.11,124.2L433.23,119.5L433.34,114.8L433.46,110.1L433.57,105.4L433.68,100.8L433.78,96.1L433.89,91.4L433.99,86.8L434.10,82.1L434.20,77.4L434.29,72.7L434.39,68.1L434.49,63.4L434.58,58.7L434.68,54.0L434.77,49.3L434.86,44.7L434.95,40.0" stroke="url(#r3)" stroke-width="1.8"/><path d="M425.19,233.0L424.76,228.2L424.38,223.3L424.03,218.5L423.72,213.7L423.44,208.9L423.18,204.1L422.95,199.2L422.74,194.4L422.55,189.6L422.37,184.8L422.22,179.9L422.08,175.1L421.95,170.3L421.84,165.4L421.73,160.6L421.64,155.8L421.55,151.0L421.48,146.2L421.41,141.3L421.34,136.5L421.29,131.7L421.24,126.8L421.19,122.0L421.15,117.2L421.11,112.4L421.08,107.6L421.04,102.7L421.02,97.9L420.99,93.1L420.97,88.2L420.95,83.4L420.93,78.6L420.91,73.8L420.90,68.9L420.88,64.1L420.87,59.3L420.86,54.5L420.85,49.7L420.84,44.8L420.83,40.0" stroke="url(#l3)" stroke-width="1.3"/><path d="M448.66,227.0L448.97,222.3L449.25,217.7L449.50,213.0L449.74,208.3L449.96,203.6L450.16,198.9L450.36,194.3L450.54,189.6L450.72,184.9L450.89,180.2L451.05,175.6L451.21,170.9L451.36,166.2L451.51,161.6L451.65,156.9L451.79,152.2L451.93,147.5L452.06,142.8L452.19,138.2L452.32,133.5L452.44,128.8L452.56,124.2L452.68,119.5L452.79,114.8L452.91,110.1L453.02,105.4L453.13,100.8L453.23,96.1L453.34,91.4L453.44,86.8L453.55,82.1L453.65,77.4L453.74,72.7L453.84,68.1L453.94,63.4L454.03,58.7L454.13,54.0L454.22,49.3L454.31,44.7L454.40,40.0" stroke="url(#r4)" stroke-width="1.8"/><path d="M444.64,233.0L444.21,228.2L443.83,223.3L443.48,218.5L443.17,213.7L442.89,208.9L442.63,204.1L442.40,199.2L442.19,194.4L442.00,189.6L441.82,184.8L441.67,179.9L441.53,175.1L441.40,170.3L441.29,165.4L441.18,160.6L441.09,155.8L441.00,151.0L440.93,146.2L440.86,141.3L440.79,136.5L440.74,131.7L440.69,126.8L440.64,122.0L440.60,117.2L440.56,112.4L440.53,107.6L440.49,102.7L440.47,97.9L440.44,93.1L440.42,88.2L440.40,83.4L440.38,78.6L440.36,73.8L440.35,68.9L440.33,64.1L440.32,59.3L440.31,54.5L440.30,49.7L440.29,44.8L440.28,40.0" stroke="url(#l4)" stroke-width="1.3"/><path d="M468.11,227.0L468.42,222.3L468.70,217.7L468.95,213.0L469.19,208.3L469.41,203.6L469.61,198.9L469.81,194.3L469.99,189.6L470.17,184.9L470.34,180.2L470.50,175.6L470.66,170.9L470.81,166.2L470.96,161.6L471.10,156.9L471.24,152.2L471.38,147.5L471.51,142.8L471.64,138.2L471.77,133.5L471.89,128.8L472.01,124.2L472.13,119.5L472.24,114.8L472.36,110.1L472.47,105.4L472.58,100.8L472.68,96.1L472.79,91.4L472.89,86.8L473.00,82.1L473.10,77.4L473.19,72.7L473.29,68.1L473.39,63.4L473.48,58.7L473.58,54.0L473.67,49.3L473.76,44.7L473.85,40.0" stroke="url(#r5)" stroke-width="1.8"/><path d="M464.09,233.0L463.66,228.2L463.28,223.3L462.93,218.5L462.62,213.7L462.34,208.9L462.08,204.1L461.85,199.2L461.64,194.4L461.45,189.6L461.27,184.8L461.12,179.9L460.98,175.1L460.85,170.3L460.74,165.4L460.63,160.6L460.54,155.8L460.45,151.0L460.38,146.2L460.31,141.3L460.24,136.5L460.19,131.7L460.14,126.8L460.09,122.0L460.05,117.2L460.01,112.4L459.98,107.6L459.94,102.7L459.92,97.9L459.89,93.1L459.87,88.2L459.85,83.4L459.83,78.6L459.81,73.8L459.80,68.9L459.78,64.1L459.77,59.3L459.76,54.5L459.75,49.7L459.74,44.8L459.73,40.0" stroke="url(#l5)" stroke-width="1.3"/><path d="M487.56,227.0L487.87,222.3L488.15,217.7L488.40,213.0L488.64,208.3L488.86,203.6L489.06,198.9L489.26,194.3L489.44,189.6L489.62,184.9L489.79,180.2L489.95,175.6L490.11,170.9L490.26,166.2L490.41,161.6L490.55,156.9L490.69,152.2L490.83,147.5L490.96,142.8L491.09,138.2L491.22,133.5L491.34,128.8L491.46,124.2L491.58,119.5L491.69,114.8L491.81,110.1L491.92,105.4L492.03,100.8L492.13,96.1L492.24,91.4L492.34,86.8L492.45,82.1L492.55,77.4L492.64,72.7L492.74,68.1L492.84,63.4L492.93,58.7L493.03,54.0L493.12,49.3L493.21,44.7L493.30,40.0" stroke="url(#r6)" stroke-width="1.8"/><path d="M483.54,233.0L483.11,228.2L482.73,223.3L482.38,218.5L482.07,213.7L481.79,208.9L481.53,204.1L481.30,199.2L481.09,194.4L480.90,189.6L480.72,184.8L480.57,179.9L480.43,175.1L480.30,170.3L480.19,165.4L480.08,160.6L479.99,155.8L479.90,151.0L479.83,146.2L479.76,141.3L479.69,136.5L479.64,131.7L479.59,126.8L479.54,122.0L479.50,117.2L479.46,112.4L479.43,107.6L479.39,102.7L479.37,97.9L479.34,93.1L479.32,88.2L479.30,83.4L479.28,78.6L479.26,73.8L479.25,68.9L479.23,64.1L479.22,59.3L479.21,54.5L479.20,49.7L479.19,44.8L479.18,40.0" stroke="url(#l6)" stroke-width="1.3"/><path d="M507.01,227.0L507.32,222.3L507.60,217.7L507.85,213.0L508.09,208.3L508.31,203.6L508.51,198.9L508.71,194.3L508.89,189.6L509.07,184.9L509.24,180.2L509.40,175.6L509.56,170.9L509.71,166.2L509.86,161.6L510.00,156.9L510.14,152.2L510.28,147.5L510.41,142.8L510.54,138.2L510.67,133.5L510.79,128.8L510.91,124.2L511.03,119.5L511.14,114.8L511.26,110.1L511.37,105.4L511.48,100.8L511.58,96.1L511.69,91.4L511.79,86.8L511.90,82.1L512.00,77.4L512.09,72.7L512.19,68.1L512.29,63.4L512.38,58.7L512.48,54.0L512.57,49.3L512.66,44.7L512.75,40.0" stroke="url(#r7)" stroke-width="1.8"/><path d="M502.99,233.0L502.56,228.2L502.18,223.3L501.83,218.5L501.52,213.7L501.24,208.9L500.98,204.1L500.75,199.2L500.54,194.4L500.35,189.6L500.17,184.8L500.02,179.9L499.88,175.1L499.75,170.3L499.64,165.4L499.53,160.6L499.44,155.8L499.35,151.0L499.28,146.2L499.21,141.3L499.14,136.5L499.09,131.7L499.04,126.8L498.99,122.0L498.95,117.2L498.91,112.4L498.88,107.6L498.84,102.7L498.82,97.9L498.79,93.1L498.77,88.2L498.75,83.4L498.73,78.6L498.71,73.8L498.70,68.9L498.68,64.1L498.67,59.3L498.66,54.5L498.65,49.7L498.64,44.8L498.63,40.0" stroke="url(#l7)" stroke-width="1.3"/><path d="M526.46,227.0L526.77,222.3L527.05,217.7L527.30,213.0L527.54,208.3L527.76,203.6L527.96,198.9L528.16,194.3L528.34,189.6L528.52,184.9L528.69,180.2L528.85,175.6L529.01,170.9L529.16,166.2L529.31,161.6L529.45,156.9L529.59,152.2L529.73,147.5L529.86,142.8L529.99,138.2L530.12,133.5L530.24,128.8L530.36,124.2L530.48,119.5L530.59,114.8L530.71,110.1L530.82,105.4L530.93,100.8L531.03,96.1L531.14,91.4L531.24,86.8L531.35,82.1L531.45,77.4L531.54,72.7L531.64,68.1L531.74,63.4L531.83,58.7L531.93,54.0L532.02,49.3L532.11,44.7L532.20,40.0" stroke="url(#r8)" stroke-width="1.8"/><path d="M522.44,233.0L522.01,228.2L521.63,223.3L521.28,218.5L520.97,213.7L520.69,208.9L520.43,204.1L520.20,199.2L519.99,194.4L519.80,189.6L519.62,184.8L519.47,179.9L519.33,175.1L519.20,170.3L519.09,165.4L518.98,160.6L518.89,155.8L518.80,151.0L518.73,146.2L518.66,141.3L518.59,136.5L518.54,131.7L518.49,126.8L518.44,122.0L518.40,117.2L518.36,112.4L518.33,107.6L518.29,102.7L518.27,97.9L518.24,93.1L518.22,88.2L518.20,83.4L518.18,78.6L518.16,73.8L518.15,68.9L518.13,64.1L518.12,59.3L518.11,54.5L518.10,49.7L518.09,44.8L518.08,40.0" stroke="url(#l8)" stroke-width="1.3"/><path d="M545.91,227.0L546.22,222.3L546.50,217.7L546.75,213.0L546.99,208.3L547.21,203.6L547.41,198.9L547.61,194.3L547.79,189.6L547.97,184.9L548.14,180.2L548.30,175.6L548.46,170.9L548.61,166.2L548.76,161.6L548.90,156.9L549.04,152.2L549.18,147.5L549.31,142.8L549.44,138.2L549.57,133.5L549.69,128.8L549.81,124.2L549.93,119.5L550.04,114.8L550.16,110.1L550.27,105.4L550.38,100.8L550.48,96.1L550.59,91.4L550.69,86.8L550.80,82.1L550.90,77.4L550.99,72.7L551.09,68.1L551.19,63.4L551.28,58.7L551.38,54.0L551.47,49.3L551.56,44.7L551.65,40.0" stroke="url(#r9)" stroke-width="1.8"/><path d="M541.89,233.0L541.46,228.2L541.08,223.3L540.73,218.5L540.42,213.7L540.14,208.9L539.88,204.1L539.65,199.2L539.44,194.4L539.25,189.6L539.07,184.8L538.92,179.9L538.78,175.1L538.65,170.3L538.54,165.4L538.43,160.6L538.34,155.8L538.25,151.0L538.18,146.2L538.11,141.3L538.04,136.5L537.99,131.7L537.94,126.8L537.89,122.0L537.85,117.2L537.81,112.4L537.78,107.6L537.74,102.7L537.72,97.9L537.69,93.1L537.67,88.2L537.65,83.4L537.63,78.6L537.61,73.8L537.60,68.9L537.58,64.1L537.57,59.3L537.56,54.5L537.55,49.7L537.54,44.8L537.53,40.0" stroke="url(#l9)" stroke-width="1.3"/><path d="M565.36,227.0L565.67,222.3L565.95,217.7L566.20,213.0L566.44,208.3L566.66,203.6L566.86,198.9L567.06,194.3L567.24,189.6L567.42,184.9L567.59,180.2L567.75,175.6L567.91,170.9L568.06,166.2L568.21,161.6L568.35,156.9L568.49,152.2L568.63,147.5L568.76,142.8L568.89,138.2L569.02,133.5L569.14,128.8L569.26,124.2L569.38,119.5L569.49,114.8L569.61,110.1L569.72,105.4L569.83,100.8L569.93,96.1L570.04,91.4L570.14,86.8L570.25,82.1L570.35,77.4L570.44,72.7L570.54,68.1L570.64,63.4L570.73,58.7L570.83,54.0L570.92,49.3L571.01,44.7L571.10,40.0" stroke="url(#r10)" stroke-width="1.8"/><path d="M561.34,233.0L560.91,228.2L560.53,223.3L560.18,218.5L559.87,213.7L559.59,208.9L559.33,204.1L559.10,199.2L558.89,194.4L558.70,189.6L558.52,184.8L558.37,179.9L558.23,175.1L558.10,170.3L557.99,165.4L557.88,160.6L557.79,155.8L557.70,151.0L557.63,146.2L557.56,141.3L557.49,136.5L557.44,131.7L557.39,126.8L557.34,122.0L557.30,117.2L557.26,112.4L557.23,107.6L557.19,102.7L557.17,97.9L557.14,93.1L557.12,88.2L557.10,83.4L557.08,78.6L557.06,73.8L557.05,68.9L557.03,64.1L557.02,59.3L557.01,54.5L557.00,49.7L556.99,44.8L556.98,40.0" stroke="url(#l10)" stroke-width="1.3"/><path d="M584.81,227.0L585.12,222.3L585.40,217.7L585.65,213.0L585.89,208.3L586.11,203.6L586.31,198.9L586.51,194.3L586.69,189.6L586.87,184.9L587.04,180.2L587.20,175.6L587.36,170.9L587.51,166.2L587.66,161.6L587.80,156.9L587.94,152.2L588.08,147.5L588.21,142.8L588.34,138.2L588.47,133.5L588.59,128.8L588.71,124.2L588.83,119.5L588.94,114.8L589.06,110.1L589.17,105.4L589.28,100.8L589.38,96.1L589.49,91.4L589.59,86.8L589.70,82.1L589.80,77.4L589.89,72.7L589.99,68.1L590.09,63.4L590.18,58.7L590.28,54.0L590.37,49.3L590.46,44.7L590.55,40.0" stroke="url(#r11)" stroke-width="1.8"/><path d="M580.79,233.0L580.36,228.2L579.98,223.3L579.63,218.5L579.32,213.7L579.04,208.9L578.78,204.1L578.55,199.2L578.34,194.4L578.15,189.6L577.97,184.8L577.82,179.9L577.68,175.1L577.55,170.3L577.44,165.4L577.33,160.6L577.24,155.8L577.15,151.0L577.08,146.2L577.01,141.3L576.94,136.5L576.89,131.7L576.84,126.8L576.79,122.0L576.75,117.2L576.71,112.4L576.68,107.6L576.64,102.7L576.62,97.9L576.59,93.1L576.57,88.2L576.55,83.4L576.53,78.6L576.51,73.8L576.50,68.9L576.48,64.1L576.47,59.3L576.46,54.5L576.45,49.7L576.44,44.8L576.43,40.0" stroke="url(#l11)" stroke-width="1.3"/><path d="M604.26,227.0L604.57,222.3L604.85,217.7L605.10,213.0L605.34,208.3L605.56,203.6L605.76,198.9L605.96,194.3L606.14,189.6L606.32,184.9L606.49,180.2L606.65,175.6L606.81,170.9L606.96,166.2L607.11,161.6L607.25,156.9L607.39,152.2L607.53,147.5L607.66,142.8L607.79,138.2L607.92,133.5L608.04,128.8L608.16,124.2L608.28,119.5L608.39,114.8L608.51,110.1L608.62,105.4L608.73,100.8L608.83,96.1L608.94,91.4L609.04,86.8L609.15,82.1L609.25,77.4L609.34,72.7L609.44,68.1L609.54,63.4L609.63,58.7L609.73,54.0L609.82,49.3L609.91,44.7L610.00,40.0" stroke="url(#r12)" stroke-width="1.8"/><path d="M600.24,233.0L599.81,228.2L599.43,223.3L599.08,218.5L598.77,213.7L598.49,208.9L598.23,204.1L598.00,199.2L597.79,194.4L597.60,189.6L597.42,184.8L597.27,179.9L597.13,175.1L597.00,170.3L596.89,165.4L596.78,160.6L596.69,155.8L596.60,151.0L596.53,146.2L596.46,141.3L596.39,136.5L596.34,131.7L596.29,126.8L596.24,122.0L596.20,117.2L596.16,112.4L596.13,107.6L596.09,102.7L596.07,97.9L596.04,93.1L596.02,88.2L596.00,83.4L595.98,78.6L595.96,73.8L595.95,68.9L595.93,64.1L595.92,59.3L595.91,54.5L595.90,49.7L595.89,44.8L595.88,40.0" stroke="url(#l12)" stroke-width="1.3"/><path d="M623.71,227.0L624.02,222.3L624.30,217.7L624.55,213.0L624.79,208.3L625.01,203.6L625.21,198.9L625.41,194.3L625.59,189.6L625.77,184.9L625.94,180.2L626.10,175.6L626.26,170.9L626.41,166.2L626.56,161.6L626.70,156.9L626.84,152.2L626.98,147.5L627.11,142.8L627.24,138.2L627.37,133.5L627.49,128.8L627.61,124.2L627.73,119.5L627.84,114.8L627.96,110.1L628.07,105.4L628.18,100.8L628.28,96.1L628.39,91.4L628.49,86.8L628.60,82.1L628.70,77.4L628.79,72.7L628.89,68.1L628.99,63.4L629.08,58.7L629.18,54.0L629.27,49.3L629.36,44.7L629.45,40.0" stroke="url(#r13)" stroke-width="1.8"/><path d="M619.69,233.0L619.26,228.2L618.88,223.3L618.53,218.5L618.22,213.7L617.94,208.9L617.68,204.1L617.45,199.2L617.24,194.4L617.05,189.6L616.87,184.8L616.72,179.9L616.58,175.1L616.45,170.3L616.34,165.4L616.23,160.6L616.14,155.8L616.05,151.0L615.98,146.2L615.91,141.3L615.84,136.5L615.79,131.7L615.74,126.8L615.69,122.0L615.65,117.2L615.61,112.4L615.58,107.6L615.54,102.7L615.52,97.9L615.49,93.1L615.47,88.2L615.45,83.4L615.43,78.6L615.41,73.8L615.40,68.9L615.38,64.1L615.37,59.3L615.36,54.5L615.35,49.7L615.34,44.8L615.33,40.0" stroke="url(#l13)" stroke-width="1.3"/><path d="M643.16,227.0L643.47,222.3L643.75,217.7L644.00,213.0L644.24,208.3L644.46,203.6L644.66,198.9L644.86,194.3L645.04,189.6L645.22,184.9L645.39,180.2L645.55,175.6L645.71,170.9L645.86,166.2L646.01,161.6L646.15,156.9L646.29,152.2L646.43,147.5L646.56,142.8L646.69,138.2L646.82,133.5L646.94,128.8L647.06,124.2L647.18,119.5L647.29,114.8L647.41,110.1L647.52,105.4L647.63,100.8L647.73,96.1L647.84,91.4L647.94,86.8L648.05,82.1L648.15,77.4L648.24,72.7L648.34,68.1L648.44,63.4L648.53,58.7L648.63,54.0L648.72,49.3L648.81,44.7L648.90,40.0" stroke="url(#r14)" stroke-width="1.8"/><path d="M639.14,233.0L638.71,228.2L638.33,223.3L637.98,218.5L637.67,213.7L637.39,208.9L637.13,204.1L636.90,199.2L636.69,194.4L636.50,189.6L636.32,184.8L636.17,179.9L636.03,175.1L635.90,170.3L635.79,165.4L635.68,160.6L635.59,155.8L635.50,151.0L635.43,146.2L635.36,141.3L635.29,136.5L635.24,131.7L635.19,126.8L635.14,122.0L635.10,117.2L635.06,112.4L635.03,107.6L634.99,102.7L634.97,97.9L634.94,93.1L634.92,88.2L634.90,83.4L634.88,78.6L634.86,73.8L634.85,68.9L634.83,64.1L634.82,59.3L634.81,54.5L634.80,49.7L634.79,44.8L634.78,40.0" stroke="url(#l14)" stroke-width="1.3"/><path d="M662.61,227.0L662.92,222.3L663.20,217.7L663.45,213.0L663.69,208.3L663.91,203.6L664.11,198.9L664.31,194.3L664.49,189.6L664.67,184.9L664.84,180.2L665.00,175.6L665.16,170.9L665.31,166.2L665.46,161.6L665.60,156.9L665.74,152.2L665.88,147.5L666.01,142.8L666.14,138.2L666.27,133.5L666.39,128.8L666.51,124.2L666.63,119.5L666.74,114.8L666.86,110.1L666.97,105.4L667.08,100.8L667.18,96.1L667.29,91.4L667.39,86.8L667.50,82.1L667.60,77.4L667.69,72.7L667.79,68.1L667.89,63.4L667.98,58.7L668.08,54.0L668.17,49.3L668.26,44.7L668.35,40.0" stroke="url(#r15)" stroke-width="1.8"/><path d="M658.59,233.0L658.16,228.2L657.78,223.3L657.43,218.5L657.12,213.7L656.84,208.9L656.58,204.1L656.35,199.2L656.14,194.4L655.95,189.6L655.77,184.8L655.62,179.9L655.48,175.1L655.35,170.3L655.24,165.4L655.13,160.6L655.04,155.8L654.95,151.0L654.88,146.2L654.81,141.3L654.74,136.5L654.69,131.7L654.64,126.8L654.59,122.0L654.55,117.2L654.51,112.4L654.48,107.6L654.44,102.7L654.42,97.9L654.39,93.1L654.37,88.2L654.35,83.4L654.33,78.6L654.31,73.8L654.30,68.9L654.28,64.1L654.27,59.3L654.26,54.5L654.25,49.7L654.24,44.8L654.23,40.0" stroke="url(#l15)" stroke-width="1.3"/><path d="M682.06,227.0L682.37,222.3L682.65,217.7L682.90,213.0L683.14,208.3L683.36,203.6L683.56,198.9L683.76,194.3L683.94,189.6L684.12,184.9L684.29,180.2L684.45,175.6L684.61,170.9L684.76,166.2L684.91,161.6L685.05,156.9L685.19,152.2L685.33,147.5L685.46,142.8L685.59,138.2L685.72,133.5L685.84,128.8L685.96,124.2L686.08,119.5L686.19,114.8L686.31,110.1L686.42,105.4L686.53,100.8L686.63,96.1L686.74,91.4L686.84,86.8L686.95,82.1L687.05,77.4L687.14,72.7L687.24,68.1L687.34,63.4L687.43,58.7L687.53,54.0L687.62,49.3L687.71,44.7L687.80,40.0" stroke="url(#r16)" stroke-width="1.8"/><path d="M678.04,233.0L677.61,228.2L677.23,223.3L676.88,218.5L676.57,213.7L676.29,208.9L676.03,204.1L675.80,199.2L675.59,194.4L675.40,189.6L675.22,184.8L675.07,179.9L674.93,175.1L674.80,170.3L674.69,165.4L674.58,160.6L674.49,155.8L674.40,151.0L674.33,146.2L674.26,141.3L674.19,136.5L674.14,131.7L674.09,126.8L674.04,122.0L674.00,117.2L673.96,112.4L673.93,107.6L673.89,102.7L673.87,97.9L673.84,93.1L673.82,88.2L673.80,83.4L673.78,78.6L673.76,73.8L673.75,68.9L673.73,64.1L673.72,59.3L673.71,54.5L673.70,49.7L673.69,44.8L673.68,40.0" stroke="url(#l16)" stroke-width="1.3"/><path d="M701.51,227.0L701.82,222.3L702.10,217.7L702.35,213.0L702.59,208.3L702.81,203.6L703.01,198.9L703.21,194.3L703.39,189.6L703.57,184.9L703.74,180.2L703.90,175.6L704.06,170.9L704.21,166.2L704.36,161.6L704.50,156.9L704.64,152.2L704.78,147.5L704.91,142.8L705.04,138.2L705.17,133.5L705.29,128.8L705.41,124.2L705.53,119.5L705.64,114.8L705.76,110.1L705.87,105.4L705.98,100.8L706.08,96.1L706.19,91.4L706.29,86.8L706.40,82.1L706.50,77.4L706.59,72.7L706.69,68.1L706.79,63.4L706.88,58.7L706.98,54.0L707.07,49.3L707.16,44.7L707.25,40.0" stroke="url(#r17)" stroke-width="1.8"/><path d="M697.49,233.0L697.06,228.2L696.68,223.3L696.33,218.5L696.02,213.7L695.74,208.9L695.48,204.1L695.25,199.2L695.04,194.4L694.85,189.6L694.67,184.8L694.52,179.9L694.38,175.1L694.25,170.3L694.14,165.4L694.03,160.6L693.94,155.8L693.85,151.0L693.78,146.2L693.71,141.3L693.64,136.5L693.59,131.7L693.54,126.8L693.49,122.0L693.45,117.2L693.41,112.4L693.38,107.6L693.34,102.7L693.32,97.9L693.29,93.1L693.27,88.2L693.25,83.4L693.23,78.6L693.21,73.8L693.20,68.9L693.18,64.1L693.17,59.3L693.16,54.5L693.15,49.7L693.14,44.8L693.13,40.0" stroke="url(#l17)" stroke-width="1.3"/><path d="M387.55,245.0L388.47,243.3L388.82,241.7L389.08,240.0L389.29,238.3L389.48,236.7L389.65,235.0M407.00,245.0L407.92,243.3L408.27,241.7L408.53,240.0L408.74,238.3L408.93,236.7L409.10,235.0M426.45,245.0L427.37,243.3L427.72,241.7L427.98,240.0L428.19,238.3L428.38,236.7L428.55,235.0M445.90,245.0L446.82,243.3L447.17,241.7L447.43,240.0L447.64,238.3L447.83,236.7L448.00,235.0M465.35,245.0L466.27,243.3L466.62,241.7L466.88,240.0L467.09,238.3L467.28,236.7L467.45,235.0M484.80,245.0L485.72,243.3L486.07,241.7L486.33,240.0L486.54,238.3L486.73,236.7L486.90,235.0M504.25,245.0L505.17,243.3L505.52,241.7L505.78,240.0L505.99,238.3L506.18,236.7L506.35,235.0M523.70,245.0L524.62,243.3L524.97,241.7L525.23,240.0L525.44,238.3L525.63,236.7L525.80,235.0M543.15,245.0L544.07,243.3L544.42,241.7L544.68,240.0L544.89,238.3L545.08,236.7L545.25,235.0M562.60,245.0L563.52,243.3L563.87,241.7L564.13,240.0L564.34,238.3L564.53,236.7L564.70,235.0M582.05,245.0L582.97,243.3L583.32,241.7L583.58,240.0L583.79,238.3L583.98,236.7L584.15,235.0M601.50,245.0L602.42,243.3L602.77,241.7L603.03,240.0L603.24,238.3L603.43,236.7L603.60,235.0M620.95,245.0L621.87,243.3L622.22,241.7L622.48,240.0L622.69,238.3L622.88,236.7L623.05,235.0M640.40,245.0L641.32,243.3L641.67,241.7L641.93,240.0L642.14,238.3L642.33,236.7L642.50,235.0M659.85,245.0L660.77,243.3L661.12,241.7L661.38,240.0L661.59,238.3L661.78,236.7L661.95,235.0M679.30,245.0L680.22,243.3L680.57,241.7L680.83,240.0L681.04,238.3L681.23,236.7L681.40,235.0M698.75,245.0L699.67,243.3L700.02,241.7L700.28,240.0L700.49,238.3L700.68,236.7L700.85,235.0" stroke="#24b828" stroke-width="2.8"/><path d="M389.55,236.0L389.73,234.2L389.90,232.3L390.05,230.5L390.19,228.7L390.32,226.8L390.45,225.0M409.00,236.0L409.18,234.2L409.35,232.3L409.50,230.5L409.64,228.7L409.77,226.8L409.90,225.0M428.45,236.0L428.63,234.2L428.80,232.3L428.95,230.5L429.09,228.7L429.22,226.8L429.35,225.0M447.90,236.0L448.08,234.2L448.25,232.3L448.40,230.5L448.54,228.7L448.67,226.8L448.80,225.0M467.35,236.0L467.53,234.2L467.70,232.3L467.85,230.5L467.99,228.7L468.12,226.8L468.25,225.0M486.80,236.0L486.98,234.2L487.15,232.3L487.30,230.5L487.44,228.7L487.57,226.8L487.70,225.0M506.25,236.0L506.43,234.2L506.60,232.3L506.75,230.5L506.89,228.7L507.02,226.8L507.15,225.0M525.70,236.0L525.88,234.2L526.05,232.3L526.20,230.5L526.34,228.7L526.47,226.8L526.60,225.0M545.15,236.0L545.33,234.2L545.50,232.3L545.65,230.5L545.79,228.7L545.92,226.8L546.05,225.0M564.60,236.0L564.78,234.2L564.95,232.3L565.10,230.5L565.24,228.7L565.37,226.8L565.50,225.0M584.05,236.0L584.23,234.2L584.40,232.3L584.55,230.5L584.69,228.7L584.82,226.8L584.95,225.0M603.50,236.0L603.68,234.2L603.85,232.3L604.00,230.5L604.14,228.7L604.27,226.8L604.40,225.0M622.95,236.0L623.13,234.2L623.30,232.3L623.45,230.5L623.59,228.7L623.72,226.8L623.85,225.0M642.40,236.0L642.58,234.2L642.75,232.3L642.90,230.5L643.04,228.7L643.17,226.8L643.30,225.0M661.85,236.0L662.03,234.2L662.20,232.3L662.35,230.5L662.49,228.7L662.62,226.8L662.75,225.0M681.30,236.0L681.48,234.2L681.65,232.3L681.80,230.5L681.94,228.7L682.07,226.8L682.20,225.0M700.75,236.0L700.93,234.2L701.10,232.3L701.25,230.5L701.39,228.7L701.52,226.8L701.65,225.0" stroke="#24b828" stroke-width="2.4"/><path d="M390.38,226.0L390.52,223.8L390.66,221.7L390.79,219.5L390.92,217.3L391.04,215.2L391.15,213.0M409.83,226.0L409.97,223.8L410.11,221.7L410.24,219.5L410.37,217.3L410.49,215.2L410.60,213.0M429.28,226.0L429.42,223.8L429.56,221.7L429.69,219.5L429.82,217.3L429.94,215.2L430.05,213.0M448.73,226.0L448.87,223.8L449.01,221.7L449.14,219.5L449.27,217.3L449.39,215.2L449.50,213.0M468.18,226.0L468.32,223.8L468.46,221.7L468.59,219.5L468.72,217.3L468.84,215.2L468.95,213.0M487.63,226.0L487.77,223.8L487.91,221.7L488.04,219.5L488.17,217.3L488.29,215.2L488.40,213.0M507.08,226.0L507.22,223.8L507.36,221.7L507.49,219.5L507.62,217.3L507.74,215.2L507.85,213.0M526.53,226.0L526.67,223.8L526.81,221.7L526.94,219.5L527.07,217.3L527.19,215.2L527.30,213.0M545.98,226.0L546.12,223.8L546.26,221.7L546.39,219.5L546.52,217.3L546.64,215.2L546.75,213.0M565.43,226.0L565.57,223.8L565.71,221.7L565.84,219.5L565.97,217.3L566.09,215.2L566.20,213.0M584.88,226.0L585.02,223.8L585.16,221.7L585.29,219.5L585.42,217.3L585.54,215.2L585.65,213.0M604.33,226.0L604.47,223.8L604.61,221.7L604.74,219.5L604.87,217.3L604.99,215.2L605.10,213.0M623.78,226.0L623.92,223.8L624.06,221.7L624.19,219.5L624.32,217.3L624.44,215.2L624.55,213.0M643.23,226.0L643.37,223.8L643.51,221.7L643.64,219.5L643.77,217.3L643.89,215.2L644.00,213.0M662.68,226.0L662.82,223.8L662.96,221.7L663.09,219.5L663.22,217.3L663.34,215.2L663.45,213.0M682.13,226.0L682.27,223.8L682.41,221.7L682.54,219.5L682.67,217.3L682.79,215.2L682.90,213.0M701.58,226.0L701.72,223.8L701.86,221.7L701.99,219.5L702.12,217.3L702.24,215.2L702.35,213.0" stroke="#24b828" stroke-width="2.1"/><path d="M391.10,214.0L391.23,211.5L391.35,209.0L391.47,206.5L391.59,204.0L391.70,201.5L391.81,199.0M385.69,226.0L385.52,223.8L385.36,221.7L385.20,219.5L385.05,217.3L384.91,215.2L384.78,213.0M410.55,214.0L410.68,211.5L410.80,209.0L410.92,206.5L411.04,204.0L411.15,201.5L411.26,199.0M405.14,226.0L404.97,223.8L404.81,221.7L404.65,219.5L404.50,217.3L404.36,215.2L404.23,213.0M430.00,214.0L430.13,211.5L430.25,209.0L430.37,206.5L430.49,204.0L430.60,201.5L430.71,199.0M424.59,226.0L424.42,223.8L424.26,221.7L424.10,219.5L423.95,217.3L423.81,215.2L423.68,213.0M449.45,214.0L449.58,211.5L449.70,209.0L449.82,206.5L449.94,204.0L450.05,201.5L450.16,199.0M444.04,226.0L443.87,223.8L443.71,221.7L443.55,219.5L443.40,217.3L443.26,215.2L443.13,213.0M468.90,214.0L469.03,211.5L469.15,209.0L469.27,206.5L469.39,204.0L469.50,201.5L469.61,199.0M463.49,226.0L463.32,223.8L463.16,221.7L463.00,219.5L462.85,217.3L462.71,215.2L462.58,213.0M488.35,214.0L488.48,211.5L488.60,209.0L488.72,206.5L488.84,204.0L488.95,201.5L489.06,199.0M482.94,226.0L482.77,223.8L482.61,221.7L482.45,219.5L482.30,217.3L482.16,215.2L482.03,213.0M507.80,214.0L507.93,211.5L508.05,209.0L508.17,206.5L508.29,204.0L508.40,201.5L508.51,199.0M502.39,226.0L502.22,223.8L502.06,221.7L501.90,219.5L501.75,217.3L501.61,215.2L501.48,213.0M527.25,214.0L527.38,211.5L527.50,209.0L527.62,206.5L527.74,204.0L527.85,201.5L527.96,199.0M521.84,226.0L521.67,223.8L521.51,221.7L521.35,219.5L521.20,217.3L521.06,215.2L520.93,213.0M546.70,214.0L546.83,211.5L546.95,209.0L547.07,206.5L547.19,204.0L547.30,201.5L547.41,199.0M541.29,226.0L541.12,223.8L540.96,221.7L540.80,219.5L540.65,217.3L540.51,215.2L540.38,213.0M566.15,214.0L566.28,211.5L566.40,209.0L566.52,206.5L566.64,204.0L566.75,201.5L566.86,199.0M560.74,226.0L560.57,223.8L560.41,221.7L560.25,219.5L560.10,217.3L559.96,215.2L559.83,213.0M585.60,214.0L585.73,211.5L585.85,209.0L585.97,206.5L586.09,204.0L586.20,201.5L586.31,199.0M580.19,226.0L580.02,223.8L579.86,221.7L579.70,219.5L579.55,217.3L579.41,215.2L579.28,213.0M605.05,214.0L605.18,211.5L605.30,209.0L605.42,206.5L605.54,204.0L605.65,201.5L605.76,199.0M599.64,226.0L599.47,223.8L599.31,221.7L599.15,219.5L599.00,217.3L598.86,215.2L598.73,213.0M624.50,214.0L624.63,211.5L624.75,209.0L624.87,206.5L624.99,204.0L625.10,201.5L625.21,199.0M619.09,226.0L618.92,223.8L618.76,221.7L618.60,219.5L618.45,217.3L618.31,215.2L618.18,213.0M643.95,214.0L644.08,211.5L644.20,209.0L644.32,206.5L644.44,204.0L644.55,201.5L644.66,199.0M638.54,226.0L638.37,223.8L638.21,221.7L638.05,219.5L637.90,217.3L637.76,215.2L637.63,213.0M663.40,214.0L663.53,211.5L663.65,209.0L663.77,206.5L663.89,204.0L664.00,201.5L664.11,199.0M657.99,226.0L657.82,223.8L657.66,221.7L657.50,219.5L657.35,217.3L657.21,215.2L657.08,213.0M682.85,214.0L682.98,211.5L683.10,209.0L683.22,206.5L683.34,204.0L683.45,201.5L683.56,199.0M677.44,226.0L677.27,223.8L677.11,221.7L676.95,219.5L676.80,217.3L676.66,215.2L676.53,213.0M702.30,214.0L702.43,211.5L702.55,209.0L702.67,206.5L702.79,204.0L702.90,201.5L703.01,199.0M696.89,226.0L696.72,223.8L696.56,221.7L696.40,219.5L696.25,217.3L696.11,215.2L695.98,213.0" stroke="#24b828" stroke-width="1.8"/><path d="M387.55,245.0L387.36,243.3L387.17,241.7L386.99,240.0L386.81,238.3L386.64,236.7L386.48,235.0M407.00,245.0L406.81,243.3L406.62,241.7L406.44,240.0L406.26,238.3L406.09,236.7L405.93,235.0M426.45,245.0L426.26,243.3L426.07,241.7L425.89,240.0L425.71,238.3L425.54,236.7L425.38,235.0M445.90,245.0L445.71,243.3L445.52,241.7L445.34,240.0L445.16,238.3L444.99,236.7L444.83,235.0M465.35,245.0L465.16,243.3L464.97,241.7L464.79,240.0L464.61,238.3L464.44,236.7L464.28,235.0M484.80,245.0L484.61,243.3L484.42,241.7L484.24,240.0L484.06,238.3L483.89,236.7L483.73,235.0M504.25,245.0L504.06,243.3L503.87,241.7L503.69,240.0L503.51,238.3L503.34,236.7L503.18,235.0M523.70,245.0L523.51,243.3L523.32,241.7L523.14,240.0L522.96,238.3L522.79,236.7L522.63,235.0M543.15,245.0L542.96,243.3L542.77,241.7L542.59,240.0L542.41,238.3L542.24,236.7L542.08,235.0M562.60,245.0L562.41,243.3L562.22,241.7L562.04,240.0L561.86,238.3L561.69,236.7L561.53,235.0M582.05,245.0L581.86,243.3L581.67,241.7L581.49,240.0L581.31,238.3L581.14,236.7L580.98,235.0M601.50,245.0L601.31,243.3L601.12,241.7L600.94,240.0L600.76,238.3L600.59,236.7L600.43,235.0M620.95,245.0L620.76,243.3L620.57,241.7L620.39,240.0L620.21,238.3L620.04,236.7L619.88,235.0M640.40,245.0L640.21,243.3L640.02,241.7L639.84,240.0L639.66,238.3L639.49,236.7L639.33,235.0M659.85,245.0L659.66,243.3L659.47,241.7L659.29,240.0L659.11,238.3L658.94,236.7L658.78,235.0M679.30,245.0L679.11,243.3L678.92,241.7L678.74,240.0L678.56,238.3L678.39,236.7L678.23,235.0M698.75,245.0L698.56,243.3L698.37,241.7L698.19,240.0L698.01,238.3L697.84,236.7L697.68,235.0" stroke="#24b828" stroke-width="2.6"/><path d="M386.58,236.0L386.40,234.2L386.23,232.3L386.06,230.5L385.91,228.7L385.75,226.8L385.61,225.0M406.03,236.0L405.85,234.2L405.68,232.3L405.51,230.5L405.36,228.7L405.20,226.8L405.06,225.0M425.48,236.0L425.30,234.2L425.13,232.3L424.96,230.5L424.81,228.7L424.65,226.8L424.51,225.0M444.93,236.0L444.75,234.2L444.58,232.3L444.41,230.5L444.26,228.7L444.10,226.8L443.96,225.0M464.38,236.0L464.20,234.2L464.03,232.3L463.86,230.5L463.71,228.7L463.55,226.8L463.41,225.0M483.83,236.0L483.65,234.2L483.48,232.3L483.31,230.5L483.16,228.7L483.00,226.8L482.86,225.0M503.28,236.0L503.10,234.2L502.93,232.3L502.76,230.5L502.61,228.7L502.45,226.8L502.31,225.0M522.73,236.0L522.55,234.2L522.38,232.3L522.21,230.5L522.06,228.7L521.90,226.8L521.76,225.0M542.18,236.0L542.00,234.2L541.83,232.3L541.66,230.5L541.51,228.7L541.35,226.8L541.21,225.0M561.63,236.0L561.45,234.2L561.28,232.3L561.11,230.5L560.96,228.7L560.80,226.8L560.66,225.0M581.08,236.0L580.90,234.2L580.73,232.3L580.56,230.5L580.41,228.7L580.25,226.8L580.11,225.0M600.53,236.0L600.35,234.2L600.18,232.3L600.01,230.5L599.86,228.7L599.70,226.8L599.56,225.0M619.98,236.0L619.80,234.2L619.63,232.3L619.46,230.5L619.31,228.7L619.15,226.8L619.01,225.0M639.43,236.0L639.25,234.2L639.08,232.3L638.91,230.5L638.76,228.7L638.60,226.8L638.46,225.0M658.88,236.0L658.70,234.2L658.53,232.3L658.36,230.5L658.21,228.7L658.05,226.8L657.91,225.0M678.33,236.0L678.15,234.2L677.98,232.3L677.81,230.5L677.66,228.7L677.50,226.8L677.36,225.0M697.78,236.0L697.60,234.2L697.43,232.3L697.26,230.5L697.11,228.7L696.95,226.8L696.81,225.0" stroke="#24b828" stroke-width="2.2"/><path d="M391.30,210.0L391.39,208.3L391.47,206.5L391.56,204.7L391.64,202.9L391.72,201.1L391.80,199.3L391.87,197.5L391.95,195.7L392.02,193.9L392.09,192.2M410.64,212.3L410.84,208.3L411.02,204.3L411.20,200.3L411.37,196.3L411.53,192.3L411.69,188.4L411.84,184.4L411.98,180.4L412.12,176.4L412.26,172.4M405.02,224.5L404.93,223.3L404.84,222.1L404.75,220.9L404.67,219.7L404.58,218.5L404.50,217.3L404.43,216.2L404.35,215.0L404.27,213.8L404.20,212.6M430.11,211.9L430.31,207.9L430.49,203.9L430.67,199.9L430.84,196.0L431.00,192.0L431.15,188.0L431.30,184.1L431.45,180.1L431.58,176.1L431.72,172.1M449.35,215.8L449.54,212.2L449.72,208.6L449.89,205.0L450.06,201.4L450.21,197.8L450.36,194.2L450.50,190.6L450.64,187.0L450.78,183.4L450.91,179.8M468.73,217.2L468.92,213.5L469.11,209.8L469.29,206.2L469.46,202.5L469.62,198.8L469.77,195.2L469.92,191.5L470.06,187.8L470.20,184.2L470.33,180.5M488.34,214.1L488.49,211.3L488.62,208.6L488.75,205.8L488.88,203.1L489.00,200.3L489.12,197.6L489.24,194.8L489.35,192.0L489.45,189.3L489.56,186.5M481.63,206.0L481.57,204.8L481.51,203.6L481.45,202.4L481.39,201.2L481.33,200.1L481.28,198.9L481.23,197.7L481.17,196.5L481.12,195.3L481.07,194.1M507.90,212.0L508.01,209.9L508.11,207.8L508.21,205.8L508.30,203.7L508.39,201.7L508.48,199.6L508.57,197.5L508.66,195.5L508.74,193.4L508.82,191.3M501.69,216.3L501.59,214.8L501.50,213.3L501.41,211.8L501.32,210.3L501.23,208.9L501.15,207.4L501.07,205.9L500.99,204.4L500.92,202.9L500.85,201.4M527.88,200.7L528.05,196.8L528.22,192.8L528.37,188.8L528.52,184.8L528.67,180.9L528.81,176.9L528.94,172.9L529.07,168.9L529.20,165.0L529.33,161.0M521.30,218.7L521.19,217.1L521.08,215.5L520.98,213.9L520.88,212.3L520.79,210.6L520.69,209.0L520.60,207.4L520.52,205.8L520.43,204.1L520.35,202.5M546.68,214.4L546.78,212.5L546.88,210.5L546.97,208.6L547.07,206.6L547.16,204.7L547.24,202.8L547.33,200.8L547.41,198.9L547.50,197.0L547.58,195.0M540.80,219.6L540.71,218.2L540.62,216.8L540.53,215.4L540.44,214.0L540.36,212.7L540.27,211.3L540.19,209.9L540.12,208.5L540.04,207.2L539.97,205.8M566.68,203.1L566.85,199.3L567.01,195.5L567.16,191.7L567.31,187.9L567.45,184.1L567.59,180.3L567.72,176.4L567.85,172.6L567.98,168.8L568.10,165.0M585.98,206.4L586.12,203.3L586.26,200.1L586.39,197.0L586.52,193.9L586.65,190.7L586.77,187.6L586.89,184.5L587.00,181.3L587.11,178.2L587.22,175.1M579.95,222.9L579.74,220.1L579.54,217.2L579.36,214.3L579.18,211.5L579.02,208.6L578.87,205.7L578.72,202.9L578.58,200.0L578.45,197.2L578.33,194.3M605.66,201.3L605.81,197.8L605.96,194.3L606.09,190.8L606.23,187.3L606.36,183.8L606.49,180.4L606.61,176.9L606.73,173.4L606.84,169.9L606.96,166.4M599.05,218.0L598.90,215.7L598.76,213.5L598.62,211.3L598.50,209.1L598.37,206.8L598.26,204.6L598.15,202.4L598.04,200.1L597.94,197.9L597.84,195.7M624.40,215.8L624.50,214.0L624.59,212.2L624.68,210.5L624.77,208.7L624.85,206.9L624.93,205.2L625.02,203.4L625.09,201.6L625.17,199.9L625.25,198.1M644.61,200.0L644.70,198.1L644.78,196.1L644.86,194.1L644.94,192.1L645.02,190.1L645.10,188.1L645.18,186.1L645.25,184.1L645.32,182.1L645.39,180.1M637.47,210.3L637.32,207.7L637.18,205.1L637.05,202.4L636.92,199.8L636.81,197.2L636.69,194.6L636.59,191.9L636.49,189.3L636.39,186.7L636.30,184.1M663.31,215.6L663.42,213.6L663.52,211.6L663.62,209.6L663.72,207.6L663.82,205.5L663.91,203.5L664.00,201.5L664.09,199.5L664.17,197.5L664.26,195.5M656.94,210.7L656.86,209.3L656.78,207.9L656.70,206.4L656.63,205.0L656.55,203.6L656.48,202.1L656.41,200.7L656.35,199.3L656.28,197.8L656.22,196.4M683.07,209.7L683.17,207.7L683.26,205.6L683.36,203.5L683.45,201.5L683.54,199.4L683.63,197.4L683.71,195.3L683.80,193.3L683.88,191.2L683.96,189.1M702.07,218.1L702.19,216.1L702.30,214.1L702.40,212.0L702.50,210.0L702.60,208.0L702.70,206.0L702.79,204.0L702.88,202.0L702.97,200.0L703.05,198.0M695.72,208.6L695.61,206.6L695.50,204.6L695.40,202.5L695.30,200.5L695.21,198.4L695.12,196.4L695.03,194.4L694.95,192.3L694.87,190.3L694.80,188.2" stroke="#98d404" stroke-width="0.9" stroke-linecap="round" stroke-opacity="0.85"/><path d="M387.55,245.0L388.42,243.5L388.75,242.0L389.00,240.5L389.20,239.0L389.38,237.6L389.55,236.1L389.69,234.6L389.83,233.1L389.96,231.6L390.08,230.1M387.55,245.0L387.39,243.6L387.23,242.2L387.08,240.8L386.93,239.4L386.78,238.0L386.64,236.6L386.50,235.3L386.37,233.9L386.24,232.5L386.12,231.1M407.00,245.0L408.08,242.7L408.48,240.3L408.79,238.0L409.04,235.6L409.27,233.3L409.46,230.9L409.65,228.6L409.82,226.2L409.97,223.9L410.12,221.5M407.00,245.0L406.81,243.4L406.63,241.8L406.45,240.2L406.28,238.6L406.12,236.9L405.96,235.3L405.81,233.7L405.66,232.1L405.51,230.5L405.37,228.9M426.45,245.0L427.78,241.3L428.29,237.5L428.67,233.8L428.98,230.1L429.26,226.3L429.50,222.6L429.73,218.8L429.94,215.1L430.14,211.4L430.32,207.6M426.45,245.0L426.16,242.5L425.88,240.0L425.62,237.4L425.37,234.9L425.13,232.4L424.91,229.9L424.69,227.3L424.49,224.8L424.30,222.3L424.12,219.8M445.90,245.0L447.16,241.7L447.63,238.4L447.99,235.1L448.29,231.8L448.55,228.5L448.78,225.2L449.00,221.9L449.19,218.6L449.38,215.4L449.55,212.1M445.90,245.0L445.80,244.1L445.70,243.3L445.60,242.4L445.51,241.6L445.42,240.7L445.32,239.9L445.23,239.0L445.15,238.2L445.06,237.3L444.97,236.5M465.35,245.0L466.22,243.5L466.54,242.1L466.79,240.6L466.99,239.1L467.17,237.7L467.33,236.2L467.48,234.7L467.61,233.3L467.74,231.8L467.86,230.3M465.35,245.0L465.16,243.4L464.98,241.8L464.81,240.2L464.64,238.6L464.47,237.0L464.31,235.4L464.16,233.8L464.01,232.2L463.87,230.6L463.73,229.0M484.80,245.0L485.84,242.8L486.24,240.6L486.54,238.4L486.78,236.2L487.00,234.0L487.19,231.8L487.37,229.6L487.53,227.4L487.69,225.2L487.83,223.0M484.80,245.0L484.52,242.6L484.25,240.2L484.00,237.7L483.76,235.3L483.53,232.9L483.31,230.5L483.10,228.1L482.91,225.6L482.72,223.2L482.54,220.8M504.25,245.0L505.41,242.3L505.84,239.5L506.17,236.8L506.45,234.0L506.68,231.3L506.90,228.5L507.09,225.8L507.28,223.0L507.45,220.3L507.60,217.5M504.25,245.0L504.07,243.5L503.90,242.0L503.74,240.5L503.58,239.0L503.42,237.5L503.27,236.0L503.13,234.5L502.99,233.0L502.85,231.5L502.72,230.0M523.70,245.0L524.90,242.0L525.36,239.0L525.70,236.0L525.99,233.0L526.24,230.0L526.46,227.0L526.66,224.0L526.85,221.0L527.03,218.0L527.19,215.0M523.70,245.0L523.44,242.7L523.18,240.4L522.94,238.1L522.71,235.9L522.49,233.6L522.28,231.3L522.08,229.0L521.89,226.7L521.71,224.4L521.54,222.2M543.15,245.0L544.26,242.5L544.69,239.9L545.00,237.4L545.27,234.9L545.50,232.3L545.70,229.8L545.89,227.2L546.07,224.7L546.23,222.2L546.38,219.6M543.15,245.0L542.93,243.1L542.71,241.2L542.51,239.3L542.31,237.4L542.12,235.4L541.94,233.5L541.76,231.6L541.60,229.7L541.43,227.8L541.28,225.9M562.60,245.0L563.60,243.0L563.97,241.0L564.25,239.0L564.49,237.1L564.70,235.1L564.88,233.1L565.05,231.1L565.20,229.1L565.35,227.1L565.49,225.1M562.60,245.0L562.34,242.8L562.09,240.5L561.85,238.3L561.63,236.0L561.41,233.8L561.21,231.5L561.01,229.3L560.82,227.0L560.64,224.8L560.47,222.6M582.05,245.0L582.92,243.5L583.25,242.0L583.50,240.5L583.71,239.0L583.89,237.5L584.05,236.0L584.20,234.5L584.34,233.0L584.46,231.5L584.58,230.0M582.05,245.0L581.85,243.3L581.66,241.6L581.48,239.9L581.30,238.2L581.13,236.5L580.96,234.9L580.80,233.2L580.65,231.5L580.50,229.8L580.36,228.1M601.50,245.0L602.59,242.6L603.00,240.2L603.31,237.8L603.57,235.3L603.79,232.9L604.00,230.5L604.18,228.1L604.35,225.7L604.51,223.3L604.66,220.9M601.50,245.0L601.21,242.5L600.94,240.0L600.68,237.5L600.43,235.0L600.20,232.5L599.97,230.0L599.76,227.5L599.56,225.0L599.37,222.5L599.19,220.0M620.95,245.0L621.82,243.5L622.14,242.1L622.39,240.6L622.59,239.1L622.77,237.7L622.93,236.2L623.08,234.7L623.22,233.3L623.34,231.8L623.46,230.3M620.95,245.0L620.72,243.0L620.49,241.0L620.28,239.0L620.08,237.0L619.88,235.0L619.69,233.0L619.51,231.0L619.34,229.0L619.17,227.0L619.01,225.0M640.40,245.0L641.59,242.1L642.04,239.2L642.38,236.3L642.66,233.4L642.90,230.4L643.12,227.5L643.32,224.6L643.51,221.7L643.68,218.8L643.85,215.9M640.40,245.0L640.19,243.2L639.98,241.3L639.78,239.5L639.59,237.6L639.41,235.8L639.23,234.0L639.06,232.1L638.90,230.3L638.74,228.5L638.59,226.6M659.85,245.0L661.09,241.8L661.55,238.7L661.91,235.5L662.20,232.3L662.45,229.1L662.68,226.0L662.89,222.8L663.09,219.6L663.27,216.4L663.44,213.3M659.85,245.0L659.69,243.7L659.54,242.3L659.39,241.0L659.25,239.7L659.11,238.3L658.98,237.0L658.84,235.7L658.71,234.3L658.59,233.0L658.47,231.7M679.30,245.0L680.51,241.9L680.97,238.9L681.32,235.8L681.61,232.8L681.86,229.7L682.08,226.7L682.29,223.6L682.48,220.6L682.66,217.5L682.82,214.5M679.30,245.0L679.11,243.4L678.93,241.8L678.75,240.1L678.58,238.5L678.41,236.9L678.25,235.3L678.10,233.6L677.95,232.0L677.80,230.4L677.67,228.8M698.75,245.0L699.76,243.0L700.14,240.9L700.42,238.9L700.66,236.9L700.87,234.8L701.05,232.8L701.22,230.8L701.38,228.8L701.53,226.7L701.67,224.7M698.75,245.0L698.53,243.1L698.32,241.2L698.12,239.4L697.92,237.5L697.74,235.6L697.56,233.7L697.38,231.8L697.22,230.0L697.06,228.1L696.90,226.2" stroke="#e8ec00" stroke-width="1.1" stroke-linecap="round"/><path d="M389.63,235.3L389.77,233.8L389.90,232.3L390.02,230.8L390.14,229.3L390.25,227.9L390.35,226.4M385.70,226.2L385.63,225.3L385.56,224.4L385.49,223.5L385.43,222.6L385.36,221.8L385.30,220.9M429.79,217.8L429.86,216.6L429.92,215.5L429.98,214.3L430.04,213.2L430.10,212.0L430.16,210.9M468.17,226.1L468.24,225.1L468.31,224.1L468.37,223.1L468.43,222.1L468.50,221.1L468.56,220.1M525.75,235.5L525.87,234.3L525.98,233.1L526.09,231.9L526.19,230.6L526.28,229.4L526.37,228.2M522.74,236.2L522.62,234.9L522.49,233.6L522.37,232.3L522.26,231.0L522.15,229.7L522.04,228.4M541.45,228.0L541.35,226.8L541.25,225.5L541.15,224.2L541.05,222.9L540.95,221.6L540.86,220.4M565.50,225.0L565.55,224.3L565.59,223.5L565.64,222.8L565.69,222.0L565.73,221.3L565.78,220.5M584.65,229.2L584.75,227.8L584.85,226.5L584.94,225.1L585.03,223.8L585.12,222.4L585.20,221.1M624.31,217.5L624.37,216.3L624.44,215.2L624.50,214.0L624.56,212.8L624.62,211.6L624.68,210.4M620.09,237.2L620.01,236.3L619.92,235.5L619.84,234.6L619.76,233.7L619.68,232.9L619.60,232.0M642.22,237.7L642.34,236.6L642.44,235.6L642.54,234.6L642.64,233.5L642.73,232.5L642.82,231.5M682.29,223.6L682.36,222.4L682.43,221.3L682.50,220.2L682.57,219.1L682.63,218.0L682.69,216.8M677.91,231.6L677.82,230.6L677.74,229.6L677.65,228.7L677.57,227.7L677.49,226.7L677.41,225.7M697.79,236.2L697.72,235.4L697.64,234.6L697.57,233.9L697.50,233.1L697.43,232.3L697.36,231.6" stroke="#ff8000" stroke-width="1.1" stroke-linecap="round"/><path d="M397,268V292M401.4,250V262M409.3,255V270M413.6,250V265M415.7,265V292M426.5,270V290M436,268V292M455.3,280V292M474.7,265V292M491.7,262V278M503,260V280M513.7,255V292M517.3,275V292M532.9,275V292M552.6,280V292M556.2,280V292M572,280V292M576.3,265V292M591.6,260V292M595.9,280V292M610.3,260V292M629.7,275V292M649.2,265V292M654.2,282V292M669.3,285V292M672.9,270V292" stroke="#14909a" stroke-opacity="0.6" stroke-width="1.1"/><path d="M397,280V292M415.7,280V292M436,280V292M455.3,280V292M474.7,280V292M513.7,280V292M517.3,280V292M532.9,280V292M552.6,280V292M572,280V292M591.6,280V292M595.9,280V292M610.3,280V292M629.7,280V292M649.2,280V292" stroke="#1aa850" stroke-opacity="0.7" stroke-width="1.1"/></g><g filter="url(#bl)"><path d="M384.55,227.0 L386.95,227.0 L388.05,233.0 L389.35,227.0 L391.55,227.0 L389.55,247.0 L387.55,258.0 L385.75,247.0Z" fill="#24b828"/><path d="M385.75,231.0 L386.95,231.0 L387.95,235.0 L388.95,231.0 L389.95,231.0 L388.75,244.0 L387.55,252.0 L386.55,244.0Z" fill="#e8ec00"/><ellipse cx="387.65" cy="240.0" rx="1.1" ry="5.5" fill="#ff8000"/><ellipse cx="387.65" cy="240.0" rx="0.8" ry="3.5" fill="#f01000"/><path d="M404.00,227.0 L406.40,227.0 L407.50,233.0 L408.80,227.0 L411.00,227.0 L409.00,247.0 L407.00,258.0 L405.20,247.0Z" fill="#24b828"/><path d="M405.20,231.0 L406.40,231.0 L407.40,235.0 L408.40,231.0 L409.40,231.0 L408.20,244.0 L407.00,252.0 L406.00,244.0Z" fill="#e8ec00"/><ellipse cx="407.10" cy="240.0" rx="1.1" ry="5.5" fill="#ff8000"/><ellipse cx="407.10" cy="240.0" rx="0.8" ry="3.5" fill="#f01000"/><path d="M423.45,227.0 L425.85,227.0 L426.95,233.0 L428.25,227.0 L430.45,227.0 L428.45,247.0 L426.45,258.0 L424.65,247.0Z" fill="#24b828"/><path d="M424.65,231.0 L425.85,231.0 L426.85,235.0 L427.85,231.0 L428.85,231.0 L427.65,244.0 L426.45,252.0 L425.45,244.0Z" fill="#e8ec00"/><ellipse cx="426.55" cy="240.0" rx="1.1" ry="5.5" fill="#ff8000"/><ellipse cx="426.55" cy="240.0" rx="0.8" ry="3.5" fill="#f01000"/><path d="M442.90,227.0 L445.30,227.0 L446.40,233.0 L447.70,227.0 L449.90,227.0 L447.90,247.0 L445.90,258.0 L444.10,247.0Z" fill="#24b828"/><path d="M444.10,231.0 L445.30,231.0 L446.30,235.0 L447.30,231.0 L448.30,231.0 L447.10,244.0 L445.90,252.0 L444.90,244.0Z" fill="#e8ec00"/><ellipse cx="446.00" cy="240.0" rx="1.1" ry="5.5" fill="#ff8000"/><ellipse cx="446.00" cy="240.0" rx="0.8" ry="3.5" fill="#f01000"/><path d="M462.35,227.0 L464.75,227.0 L465.85,233.0 L467.15,227.0 L469.35,227.0 L467.35,247.0 L465.35,258.0 L463.55,247.0Z" fill="#24b828"/><path d="M463.55,231.0 L464.75,231.0 L465.75,235.0 L466.75,231.0 L467.75,231.0 L466.55,244.0 L465.35,252.0 L464.35,244.0Z" fill="#e8ec00"/><ellipse cx="465.45" cy="240.0" rx="1.1" ry="5.5" fill="#ff8000"/><ellipse cx="465.45" cy="240.0" rx="0.8" ry="3.5" fill="#f01000"/><path d="M481.80,227.0 L484.20,227.0 L485.30,233.0 L486.60,227.0 L488.80,227.0 L486.80,247.0 L484.80,258.0 L483.00,247.0Z" fill="#24b828"/><path d="M483.00,231.0 L484.20,231.0 L485.20,235.0 L486.20,231.0 L487.20,231.0 L486.00,244.0 L484.80,252.0 L483.80,244.0Z" fill="#e8ec00"/><ellipse cx="484.90" cy="240.0" rx="1.1" ry="5.5" fill="#ff8000"/><ellipse cx="484.90" cy="240.0" rx="0.8" ry="3.5" fill="#f01000"/><path d="M501.25,227.0 L503.65,227.0 L504.75,233.0 L506.05,227.0 L508.25,227.0 L506.25,247.0 L504.25,258.0 L502.45,247.0Z" fill="#24b828"/><path d="M502.45,231.0 L503.65,231.0 L504.65,235.0 L505.65,231.0 L506.65,231.0 L505.45,244.0 L504.25,252.0 L503.25,244.0Z" fill="#e8ec00"/><ellipse cx="504.35" cy="240.0" rx="1.1" ry="5.5" fill="#ff8000"/><ellipse cx="504.35" cy="240.0" rx="0.8" ry="3.5" fill="#f01000"/><path d="M520.70,227.0 L523.10,227.0 L524.20,233.0 L525.50,227.0 L527.70,227.0 L525.70,247.0 L523.70,258.0 L521.90,247.0Z" fill="#24b828"/><path d="M521.90,231.0 L523.10,231.0 L524.10,235.0 L525.10,231.0 L526.10,231.0 L524.90,244.0 L523.70,252.0 L522.70,244.0Z" fill="#e8ec00"/><ellipse cx="523.80" cy="240.0" rx="1.1" ry="5.5" fill="#ff8000"/><ellipse cx="523.80" cy="240.0" rx="0.8" ry="3.5" fill="#f01000"/><path d="M540.15,227.0 L542.55,227.0 L543.65,233.0 L544.95,227.0 L547.15,227.0 L545.15,247.0 L543.15,258.0 L541.35,247.0Z" fill="#24b828"/><path d="M541.35,231.0 L542.55,231.0 L543.55,235.0 L544.55,231.0 L545.55,231.0 L544.35,244.0 L543.15,252.0 L542.15,244.0Z" fill="#e8ec00"/><ellipse cx="543.25" cy="240.0" rx="1.1" ry="5.5" fill="#ff8000"/><ellipse cx="543.25" cy="240.0" rx="0.8" ry="3.5" fill="#f01000"/><path d="M559.60,227.0 L562.00,227.0 L563.10,233.0 L564.40,227.0 L566.60,227.0 L564.60,247.0 L562.60,258.0 L560.80,247.0Z" fill="#24b828"/><path d="M560.80,231.0 L562.00,231.0 L563.00,235.0 L564.00,231.0 L565.00,231.0 L563.80,244.0 L562.60,252.0 L561.60,244.0Z" fill="#e8ec00"/><ellipse cx="562.70" cy="240.0" rx="1.1" ry="5.5" fill="#ff8000"/><ellipse cx="562.70" cy="240.0" rx="0.8" ry="3.5" fill="#f01000"/><path d="M579.05,227.0 L581.45,227.0 L582.55,233.0 L583.85,227.0 L586.05,227.0 L584.05,247.0 L582.05,258.0 L580.25,247.0Z" fill="#24b828"/><path d="M580.25,231.0 L581.45,231.0 L582.45,235.0 L583.45,231.0 L584.45,231.0 L583.25,244.0 L582.05,252.0 L581.05,244.0Z" fill="#e8ec00"/><ellipse cx="582.15" cy="240.0" rx="1.1" ry="5.5" fill="#ff8000"/><ellipse cx="582.15" cy="240.0" rx="0.8" ry="3.5" fill="#f01000"/><path d="M598.50,227.0 L600.90,227.0 L602.00,233.0 L603.30,227.0 L605.50,227.0 L603.50,247.0 L601.50,258.0 L599.70,247.0Z" fill="#24b828"/><path d="M599.70,231.0 L600.90,231.0 L601.90,235.0 L602.90,231.0 L603.90,231.0 L602.70,244.0 L601.50,252.0 L600.50,244.0Z" fill="#e8ec00"/><ellipse cx="601.60" cy="240.0" rx="1.1" ry="5.5" fill="#ff8000"/><ellipse cx="601.60" cy="240.0" rx="0.8" ry="3.5" fill="#f01000"/><path d="M617.95,227.0 L620.35,227.0 L621.45,233.0 L622.75,227.0 L624.95,227.0 L622.95,247.0 L620.95,258.0 L619.15,247.0Z" fill="#24b828"/><path d="M619.15,231.0 L620.35,231.0 L621.35,235.0 L622.35,231.0 L623.35,231.0 L622.15,244.0 L620.95,252.0 L619.95,244.0Z" fill="#e8ec00"/><ellipse cx="621.05" cy="240.0" rx="1.1" ry="5.5" fill="#ff8000"/><ellipse cx="621.05" cy="240.0" rx="0.8" ry="3.5" fill="#f01000"/><path d="M637.40,227.0 L639.80,227.0 L640.90,233.0 L642.20,227.0 L644.40,227.0 L642.40,247.0 L640.40,258.0 L638.60,247.0Z" fill="#24b828"/><path d="M638.60,231.0 L639.80,231.0 L640.80,235.0 L641.80,231.0 L642.80,231.0 L641.60,244.0 L640.40,252.0 L639.40,244.0Z" fill="#e8ec00"/><ellipse cx="640.50" cy="240.0" rx="1.1" ry="5.5" fill="#ff8000"/><ellipse cx="640.50" cy="240.0" rx="0.8" ry="3.5" fill="#f01000"/><path d="M656.85,227.0 L659.25,227.0 L660.35,233.0 L661.65,227.0 L663.85,227.0 L661.85,247.0 L659.85,258.0 L658.05,247.0Z" fill="#24b828"/><path d="M658.05,231.0 L659.25,231.0 L660.25,235.0 L661.25,231.0 L662.25,231.0 L661.05,244.0 L659.85,252.0 L658.85,244.0Z" fill="#e8ec00"/><ellipse cx="659.95" cy="240.0" rx="1.1" ry="5.5" fill="#ff8000"/><ellipse cx="659.95" cy="240.0" rx="0.8" ry="3.5" fill="#f01000"/><path d="M676.30,227.0 L678.70,227.0 L679.80,233.0 L681.10,227.0 L683.30,227.0 L681.30,247.0 L679.30,258.0 L677.50,247.0Z" fill="#24b828"/><path d="M677.50,231.0 L678.70,231.0 L679.70,235.0 L680.70,231.0 L681.70,231.0 L680.50,244.0 L679.30,252.0 L678.30,244.0Z" fill="#e8ec00"/><ellipse cx="679.40" cy="240.0" rx="1.1" ry="5.5" fill="#ff8000"/><ellipse cx="679.40" cy="240.0" rx="0.8" ry="3.5" fill="#f01000"/><path d="M695.75,227.0 L698.15,227.0 L699.25,233.0 L700.55,227.0 L702.75,227.0 L700.75,247.0 L698.75,258.0 L696.95,247.0Z" fill="#24b828"/><path d="M696.95,231.0 L698.15,231.0 L699.15,235.0 L700.15,231.0 L701.15,231.0 L699.95,244.0 L698.75,252.0 L697.75,244.0Z" fill="#e8ec00"/><ellipse cx="698.85" cy="240.0" rx="1.1" ry="5.5" fill="#ff8000"/><ellipse cx="698.85" cy="240.0" rx="0.8" ry="3.5" fill="#f01000"/></g></g><defs><filter id="bl2" x="-30%" y="-10%" width="160%" height="120%"><feGaussianBlur stdDeviation="0.75"/></filter></defs><g clip-path="url(#spc)"><g filter="url(#bl2)" fill="none" stroke-linecap="round"><path d="M394.75,102.0L394.81,99.4L394.87,96.8L394.93,94.2L394.99,91.6L395.04,89.0L395.10,86.4L395.16,83.8L395.21,81.2L395.27,78.6L395.33,76.0M393.95,134.0L394.02,131.6L394.08,129.2L394.14,126.8L394.20,124.4L394.26,122.0L394.32,119.6L394.38,117.2L394.44,114.8L394.50,112.4L394.56,110.0M414.82,74.0L414.85,72.3L414.89,70.6L414.93,68.9L414.96,67.2L415.00,65.5L415.03,63.8L415.07,62.1L415.10,60.4L415.13,58.7L415.17,57.0M412.87,153.0L412.95,150.2L413.03,147.4L413.11,144.6L413.19,141.8L413.27,139.0L413.34,136.2L413.42,133.4L413.49,130.6L413.56,127.8L413.64,125.0M434.14,80.0L434.18,78.3L434.21,76.6L434.25,74.9L434.28,73.2L434.32,71.5L434.36,69.8L434.39,68.1L434.43,66.4L434.46,64.7L434.50,63.0M432.11,160.0L432.19,157.4L432.27,154.8L432.34,152.2L432.42,149.6L432.49,147.0L432.57,144.4L432.64,141.8L432.71,139.2L432.78,136.6L432.85,134.0M453.55,82.0L453.58,80.3L453.62,78.6L453.66,76.9L453.69,75.2L453.73,73.5L453.76,71.8L453.80,70.1L453.84,68.4L453.87,66.7L453.91,65.0M451.17,172.0L451.25,169.7L451.32,167.4L451.40,165.1L451.47,162.8L451.54,160.5L451.61,158.2L451.68,155.9L451.75,153.6L451.82,151.3L451.89,149.0M472.55,102.0L472.61,99.4L472.67,96.8L472.73,94.2L472.79,91.6L472.84,89.0L472.90,86.4L472.96,83.8L473.01,81.2L473.07,78.6L473.13,76.0M472.04,123.0L472.08,121.3L472.12,119.6L472.17,117.9L472.21,116.2L472.25,114.5L472.29,112.8L472.33,111.1L472.37,109.4L472.41,107.7L472.45,106.0M492.00,102.0L492.04,100.0L492.09,98.0L492.14,96.0L492.18,94.0L492.23,92.0L492.27,90.0L492.32,88.0L492.36,86.0L492.40,84.0L492.45,82.0M491.33,129.0L491.39,126.7L491.45,124.4L491.51,122.1L491.57,119.8L491.63,117.5L491.68,115.2L491.74,112.9L491.79,110.6L491.85,108.3L491.90,106.0M512.11,72.0L512.17,69.2L512.23,66.4L512.28,63.6L512.34,60.8L512.40,58.0L512.45,55.2L512.51,52.4L512.57,49.6L512.62,46.8L512.67,44.0M510.43,142.0L510.50,139.7L510.56,137.4L510.62,135.1L510.68,132.8L510.74,130.5L510.80,128.2L510.86,125.9L510.92,123.6L510.98,121.3L511.04,119.0M531.39,80.0L531.44,77.5L531.50,75.0L531.55,72.5L531.60,70.0L531.65,67.5L531.71,65.0L531.76,62.5L531.81,60.0L531.86,57.5L531.91,55.0M529.36,160.0L529.43,157.8L529.49,155.6L529.56,153.4L529.62,151.2L529.69,149.0L529.75,146.8L529.81,144.6L529.87,142.4L529.93,140.2L529.99,138.0M550.93,76.0L550.98,73.4L551.04,70.8L551.09,68.2L551.14,65.6L551.20,63.0L551.25,60.4L551.30,57.8L551.35,55.2L551.41,52.6L551.46,50.0M549.50,136.0L549.54,134.3L549.59,132.6L549.63,130.9L549.68,129.2L549.72,127.5L549.77,125.8L549.81,124.1L549.85,122.4L549.90,120.7L549.94,119.0M570.33,78.0L570.38,75.9L570.42,73.8L570.47,71.7L570.51,69.6L570.55,67.5L570.60,65.4L570.64,63.3L570.68,61.2L570.73,59.1L570.77,57.0M567.87,172.0L567.95,169.7L568.02,167.4L568.10,165.1L568.17,162.8L568.24,160.5L568.31,158.2L568.38,155.9L568.45,153.6L568.52,151.3L568.59,149.0M589.34,98.0L589.39,96.0L589.43,94.0L589.48,92.0L589.52,90.0L589.57,88.0L589.61,86.0L589.65,84.0L589.70,82.0L589.74,80.0L589.78,78.0M587.32,172.0L587.41,169.3L587.50,166.6L587.59,163.9L587.67,161.2L587.75,158.5L587.84,155.8L587.92,153.1L588.00,150.4L588.07,147.7L588.15,145.0M609.15,82.0L609.18,80.4L609.22,78.8L609.25,77.2L609.28,75.6L609.32,74.0L609.35,72.4L609.39,70.8L609.42,69.2L609.45,67.6L609.49,66.0M607.37,153.0L607.46,150.0L607.54,147.0L607.63,144.0L607.71,141.0L607.79,138.0L607.88,135.0L607.95,132.0L608.03,129.0L608.11,126.0L608.19,123.0M628.85,70.0L628.89,68.0L628.94,66.0L628.98,64.0L629.02,62.0L629.06,60.0L629.10,58.0L629.14,56.0L629.18,54.0L629.22,52.0L629.26,50.0M628.01,108.0L628.06,105.9L628.11,103.8L628.15,101.7L628.20,99.6L628.25,97.5L628.30,95.4L628.35,93.3L628.39,91.2L628.44,89.1L628.49,87.0M626.61,160.0L626.68,157.6L626.75,155.2L626.83,152.8L626.90,150.4L626.96,148.0L627.03,145.6L627.10,143.2L627.17,140.8L627.23,138.4L627.30,136.0M647.94,87.0L647.98,84.9L648.03,82.8L648.07,80.7L648.12,78.6L648.16,76.5L648.21,74.4L648.25,72.3L648.30,70.2L648.34,68.1L648.39,66.0M645.61,174.0L645.69,171.5L645.77,169.0L645.85,166.5L645.93,164.0L646.01,161.5L646.09,159.0L646.16,156.5L646.24,154.0L646.31,151.5L646.39,149.0M667.63,76.0L667.67,74.1L667.71,72.2L667.75,70.3L667.79,68.4L667.82,66.5L667.86,64.6L667.90,62.7L667.94,60.8L667.98,58.9L668.02,57.0M666.54,123.0L666.57,121.7L666.60,120.4L666.64,119.1L666.67,117.8L666.70,116.5L666.73,115.2L666.76,113.9L666.80,112.6L666.83,111.3L666.86,110.0M684.23,182.0L684.35,178.6L684.47,175.2L684.58,171.8L684.69,168.4L684.80,165.0L684.91,161.6L685.01,158.2L685.12,154.8L685.22,151.4L685.31,148.0M437.2,146L438.0,171" stroke="#7ccc10" stroke-opacity="0.7" stroke-width="2.0"/><path d="M394.84,97.8L394.88,96.0L394.92,94.3L394.96,92.5L395.00,90.8L395.04,89.0L395.08,87.2L395.12,85.5L395.16,83.7L395.20,82.0L395.24,80.2M394.06,130.0L394.10,128.4L394.14,126.8L394.18,125.2L394.22,123.6L394.26,122.0L394.30,120.4L394.34,118.8L394.38,117.2L394.42,115.6L394.46,114.0M414.89,70.7L414.91,69.7L414.93,68.6L414.95,67.6L414.97,66.5L415.00,65.5L415.02,64.5L415.04,63.4L415.06,62.4L415.08,61.3L415.10,60.3M413.00,148.6L413.05,146.7L413.11,144.8L413.16,142.8L413.21,140.9L413.27,139.0L413.32,137.1L413.37,135.2L413.42,133.2L413.47,131.3L413.52,129.4M434.21,76.7L434.23,75.7L434.25,74.6L434.28,73.6L434.30,72.5L434.32,71.5L434.34,70.5L434.36,69.4L434.39,68.4L434.41,67.3L434.43,66.3M432.24,155.8L432.29,154.0L432.34,152.3L432.39,150.5L432.44,148.8L432.49,147.0L432.54,145.2L432.59,143.5L432.64,141.7L432.69,140.0L432.74,138.2M453.62,78.7L453.64,77.7L453.66,76.6L453.68,75.6L453.71,74.5L453.73,73.5L453.75,72.5L453.77,71.4L453.79,70.4L453.82,69.3L453.84,68.3M451.30,168.1L451.35,166.6L451.40,165.1L451.45,163.5L451.50,162.0L451.54,160.5L451.59,159.0L451.64,157.5L451.68,155.9L451.73,154.4L451.77,152.9M472.64,97.8L472.68,96.0L472.72,94.3L472.76,92.5L472.80,90.8L472.84,89.0L472.88,87.2L472.92,85.5L472.96,83.7L473.00,82.0L473.04,80.2M472.12,119.7L472.15,118.7L472.17,117.6L472.20,116.6L472.22,115.5L472.25,114.5L472.27,113.5L472.30,112.4L472.33,111.4L472.35,110.3L472.38,109.3M492.08,98.4L492.11,97.1L492.14,95.8L492.17,94.6L492.20,93.3L492.23,92.0L492.25,90.7L492.28,89.4L492.31,88.2L492.34,86.9L492.37,85.6M491.43,125.1L491.47,123.6L491.51,122.1L491.55,120.5L491.59,119.0L491.63,117.5L491.66,116.0L491.70,114.5L491.74,112.9L491.77,111.4L491.81,109.9M512.20,67.6L512.24,65.7L512.28,63.8L512.32,61.8L512.36,59.9L512.40,58.0L512.44,56.1L512.48,54.2L512.51,52.2L512.55,50.3L512.59,48.4M510.54,138.1L510.58,136.6L510.62,135.1L510.66,133.5L510.70,132.0L510.74,130.5L510.78,129.0L510.82,127.5L510.86,125.9L510.90,124.4L510.94,122.9M531.48,75.9L531.51,74.2L531.55,72.5L531.58,70.9L531.62,69.2L531.65,67.5L531.69,65.8L531.72,64.1L531.76,62.5L531.79,60.8L531.83,59.1M529.47,156.2L529.52,154.8L529.56,153.3L529.60,151.9L529.64,150.4L529.69,149.0L529.73,147.6L529.77,146.1L529.81,144.7L529.85,143.2L529.89,141.8M551.01,71.8L551.05,70.0L551.09,68.3L551.12,66.5L551.16,64.8L551.20,63.0L551.23,61.2L551.27,59.5L551.30,57.7L551.34,56.0L551.37,54.2M549.59,132.7L549.61,131.7L549.64,130.6L549.67,129.6L549.70,128.5L549.72,127.5L549.75,126.5L549.78,125.4L549.80,124.4L549.83,123.3L549.86,122.3M570.41,74.3L570.44,72.9L570.47,71.6L570.50,70.2L570.53,68.9L570.55,67.5L570.58,66.1L570.61,64.8L570.64,63.4L570.67,62.1L570.69,60.7M568.00,168.1L568.05,166.6L568.10,165.1L568.15,163.5L568.20,162.0L568.24,160.5L568.29,159.0L568.34,157.5L568.38,155.9L568.43,154.4L568.47,152.9M589.42,94.4L589.45,93.1L589.48,91.8L589.51,90.6L589.54,89.3L589.57,88.0L589.59,86.7L589.62,85.4L589.65,84.2L589.68,82.9L589.71,81.6M587.47,167.7L587.52,165.9L587.58,164.0L587.64,162.2L587.70,160.3L587.75,158.5L587.81,156.7L587.87,154.8L587.92,153.0L587.97,151.1L588.03,149.3M609.22,78.8L609.24,77.8L609.26,76.9L609.28,75.9L609.30,75.0L609.32,74.0L609.34,73.0L609.36,72.1L609.38,71.1L609.40,70.2L609.42,69.2M607.50,148.4L607.56,146.3L607.62,144.2L607.68,142.2L607.74,140.1L607.79,138.0L607.85,135.9L607.91,133.8L607.96,131.8L608.02,129.7L608.07,127.6M628.93,66.4L628.95,65.1L628.98,63.8L629.01,62.6L629.03,61.3L629.06,60.0L629.08,58.7L629.11,57.4L629.14,56.2L629.16,54.9L629.19,53.6M628.09,104.3L628.13,102.9L628.16,101.6L628.19,100.2L628.22,98.9L628.25,97.5L628.28,96.1L628.31,94.8L628.34,93.4L628.37,92.1L628.41,90.7M626.73,156.0L626.78,154.4L626.83,152.8L626.87,151.2L626.92,149.6L626.96,148.0L627.01,146.4L627.06,144.8L627.10,143.2L627.15,141.6L627.19,140.0M648.02,83.3L648.05,81.9L648.08,80.6L648.11,79.2L648.14,77.9L648.16,76.5L648.19,75.1L648.22,73.8L648.25,72.4L648.28,71.1L648.31,69.7M645.74,169.9L645.80,168.2L645.85,166.5L645.91,164.9L645.96,163.2L646.01,161.5L646.06,159.8L646.12,158.1L646.17,156.5L646.22,154.8L646.27,153.1M667.70,72.5L667.72,71.3L667.75,70.1L667.78,68.9L667.80,67.7L667.82,66.5L667.85,65.3L667.87,64.1L667.90,62.9L667.92,61.7L667.95,60.5M666.61,120.1L666.63,119.4L666.65,118.7L666.66,117.9L666.68,117.2L666.70,116.5L666.72,115.8L666.74,115.1L666.75,114.3L666.77,113.6L666.79,112.9M684.40,177.0L684.49,174.6L684.57,172.2L684.65,169.8L684.72,167.4L684.80,165.0L684.88,162.6L684.95,160.2L685.03,157.8L685.10,155.4L685.17,153.0M437.3,152L437.9,166" stroke="#ecf000" stroke-opacity="0.5" stroke-width="1.3"/><path d="M394.93,93.9L394.97,92.3L395.01,90.7L395.04,89.0L395.08,87.3L395.12,85.7L395.15,84.1M394.15,126.5L394.19,125.0L394.23,123.5L394.26,122.0L394.30,120.5L394.34,119.0L394.38,117.5M414.93,68.4L414.96,67.5L414.98,66.5L415.00,65.5L415.02,64.5L415.04,63.5L415.06,62.6M413.12,144.4L413.17,142.6L413.22,140.8L413.27,139.0L413.32,137.2L413.36,135.4L413.41,133.6M434.26,74.4L434.28,73.5L434.30,72.5L434.32,71.5L434.34,70.5L434.36,69.5L434.38,68.6M432.35,151.9L432.40,150.3L432.45,148.7L432.49,147.0L432.54,145.3L432.59,143.7L432.63,142.1M453.67,76.4L453.69,75.5L453.71,74.5L453.73,73.5L453.75,72.5L453.77,71.5L453.79,70.6M451.41,164.8L451.45,163.4L451.50,161.9L451.54,160.5L451.59,159.1L451.63,157.6L451.67,156.2M472.73,93.9L472.77,92.3L472.81,90.7L472.84,89.0L472.88,87.3L472.92,85.7L472.95,84.1M472.18,117.4L472.20,116.4L472.23,115.5L472.25,114.5L472.27,113.5L472.30,112.5L472.32,111.6M492.14,95.6L492.17,94.4L492.20,93.2L492.23,92.0L492.25,90.8L492.28,89.6L492.31,88.4M491.52,121.8L491.55,120.4L491.59,118.9L491.63,117.5L491.66,116.1L491.70,114.7L491.73,113.2M512.29,63.4L512.33,61.6L512.36,59.8L512.40,58.0L512.43,56.2L512.47,54.4L512.51,52.6M510.63,134.8L510.67,133.4L510.71,131.9L510.74,130.5L510.78,129.1L510.82,127.6L510.86,126.2M531.56,72.2L531.59,70.7L531.62,69.1L531.65,67.5L531.69,65.9L531.72,64.3L531.75,62.8M529.57,153.1L529.61,151.7L529.65,150.3L529.69,149.0L529.72,147.7L529.76,146.3L529.80,144.9M551.09,67.9L551.13,66.3L551.16,64.7L551.20,63.0L551.23,61.3L551.26,59.7L551.30,58.1M549.65,130.4L549.67,129.4L549.70,128.5L549.72,127.5L549.75,126.5L549.77,125.5L549.80,124.6M570.47,71.3L570.50,70.0L570.53,68.8L570.55,67.5L570.58,66.2L570.61,65.0L570.63,63.7M568.11,164.8L568.15,163.4L568.20,161.9L568.24,160.5L568.29,159.1L568.33,157.6L568.37,156.2M589.49,91.6L589.51,90.4L589.54,89.2L589.57,88.0L589.59,86.8L589.62,85.6L589.64,84.4M587.59,163.7L587.65,161.9L587.70,160.2L587.75,158.5L587.81,156.8L587.86,155.1L587.91,153.3M609.26,76.7L609.28,75.8L609.30,74.9L609.32,74.0L609.34,73.1L609.36,72.2L609.37,71.3M607.63,143.8L607.69,141.9L607.74,139.9L607.79,138.0L607.85,136.1L607.90,134.1L607.95,132.2M628.98,63.6L629.01,62.4L629.03,61.2L629.06,60.0L629.08,58.8L629.11,57.6L629.13,56.4M628.16,101.3L628.19,100.0L628.22,98.8L628.25,97.5L628.28,96.2L628.31,95.0L628.34,93.7M626.83,152.5L626.88,151.0L626.92,149.5L626.96,148.0L627.01,146.5L627.05,145.0L627.09,143.5M648.08,80.3L648.11,79.0L648.14,77.8L648.16,76.5L648.19,75.2L648.22,74.0L648.25,72.7M645.86,166.2L645.91,164.6L645.96,163.1L646.01,161.5L646.06,159.9L646.11,158.4L646.16,156.8M667.75,69.9L667.78,68.8L667.80,67.6L667.82,66.5L667.85,65.4L667.87,64.2L667.89,63.1M666.65,118.5L666.67,117.9L666.68,117.2L666.70,116.5L666.72,115.8L666.73,115.2L666.75,114.5M684.58,171.8L684.66,169.5L684.73,167.2L684.80,165.0L684.87,162.8L684.94,160.5L685.01,158.2" stroke="#ecf000" stroke-width="1.3"/><path d="M432.41,150.0L432.45,148.5L432.49,147.0L432.54,145.5L432.58,144.0M510.67,133.5L510.70,132.0L510.74,130.5L510.78,129.0L510.82,127.5M551.14,66.0L551.17,64.5L551.20,63.0L551.23,61.5L551.26,60.0M568.15,163.5L568.20,162.0L568.24,160.5L568.29,159.0L568.33,157.5M587.66,161.5L587.71,160.0L587.75,158.5L587.80,157.0L587.85,155.5M645.92,164.5L645.97,163.0L646.01,161.5L646.06,160.0L646.10,158.5M667.76,69.5L667.79,68.0L667.82,66.5L667.86,65.0L667.89,63.5" stroke="#f0a000" stroke-width="0.9"/></g></g><rect x="391" y="46" width="1" height="247" fill="#101040"/><rect x="391" y="292" width="294" height="1" fill="#000"/><path d="M388,292.5H391M390,288.5H391M390,285.5H391M390,281.5H391M388,277.5H391M390,273.5H391M390,269.5H391M390,265.5H391M388,261.5H391M390,257.5H391M390,254.5H391M390,250.5H391M388,246.5H391M390,242.5H391M390,238.5H391M390,234.5H391M388,230.5H391M390,226.5H391M390,223.5H391M390,219.5H391M388,215.5H391M390,211.5H391M390,207.5H391M390,203.5H391M388,199.5H391M390,195.5H391M390,192.5H391M390,188.5H391M388,184.5H391M390,180.5H391M390,176.5H391M390,172.5H391M388,168.5H391M390,164.5H391M390,161.5H391M390,157.5H391M388,153.5H391M390,149.5H391M390,145.5H391M390,141.5H391M388,137.5H391M390,133.5H391M390,130.5H391M390,126.5H391M388,122.5H391M390,118.5H391M390,114.5H391M390,110.5H391M388,106.5H391M390,102.5H391M390,99.5H391M390,95.5H391M388,91.5H391M390,87.5H391M390,83.5H391M390,79.5H391M388,75.5H391M390,71.5H391M390,68.5H391M390,64.5H391M388,60.5H391M390,56.5H391M390,52.5H391M390,48.5H391M392.5,293.5V296.5M407.5,293.5V296.5M422.5,293.5V296.5M436.5,293.5V296.5M451.5,293.5V296.5M466.5,293.5V296.5M481.5,293.5V296.5M496.5,293.5V296.5M510.5,293.5V296.5M525.5,293.5V296.5M540.5,293.5V296.5M555.5,293.5V296.5M570.5,293.5V296.5M584.5,293.5V296.5M599.5,293.5V296.5M614.5,293.5V296.5M629.5,293.5V296.5M644.5,293.5V296.5M658.5,293.5V296.5M673.5,293.5V296.5" stroke="#8a8a8a" stroke-width="1" fill="none"/><g font-family="Liberation Sans, Arial, sans-serif" font-size="10" text-rendering="geometricPrecision" fill="#000" stroke="#000" stroke-width="0.35"><text x="386.6" y="295.7" text-anchor="end">-8</text><text x="386.6" y="280.2" text-anchor="end">-7</text><text x="386.6" y="264.7" text-anchor="end">-6</text><text x="386.6" y="249.2" text-anchor="end">-5</text><text x="386.6" y="233.7" text-anchor="end">-4</text><text x="386.6" y="218.2" text-anchor="end">-3</text><text x="386.6" y="202.7" text-anchor="end">-2</text><text x="386.6" y="187.2" text-anchor="end">-1</text><text x="386.6" y="171.7" text-anchor="end">0</text><text x="386.6" y="156.2" text-anchor="end">1</text><text x="386.6" y="140.7" text-anchor="end">2</text><text x="386.6" y="125.2" text-anchor="end">3</text><text x="386.6" y="109.7" text-anchor="end">4</text><text x="386.6" y="94.2" text-anchor="end">5</text><text x="386.6" y="78.7" text-anchor="end">6</text><text x="386.6" y="63.2" text-anchor="end">7</text><text x="392.0" y="308" text-anchor="middle">0</text><text x="451.2" y="308" text-anchor="middle">20</text><text x="510.4" y="308" text-anchor="middle">40</text><text x="569.6" y="308" text-anchor="middle">60</text><text x="628.8" y="308" text-anchor="middle">80</text></g><text x="537.8" y="320.6" text-anchor="middle" font-family="Liberation Sans, Arial, sans-serif" font-weight="bold" font-size="9.8">[μs]</text><text transform="translate(372.6,170.2) rotate(-90)" text-anchor="middle" font-family="Liberation Sans, Arial, sans-serif" font-weight="bold" font-size="9.8">[MHz]</text></svg></body></html>
